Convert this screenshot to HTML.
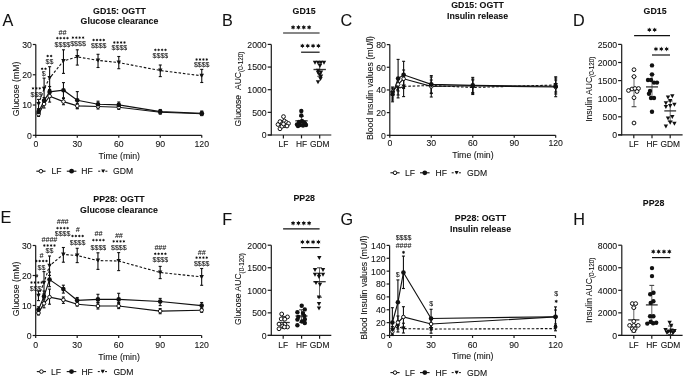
<!DOCTYPE html>
<html><head><meta charset="utf-8"><style>
html,body{margin:0;padding:0;background:#fff;}
svg{display:block;filter:grayscale(100%);}
text{font-family:"Liberation Sans",sans-serif;stroke:#111;stroke-width:0.08px;}
</style></head><body>
<svg width="685" height="378" viewBox="0 0 685 378">
<rect width="685" height="378" fill="#fff"/>
<text x="2.6" y="26" font-size="16.2" text-anchor="start" fill="#111">A</text>
<text x="119.5" y="13.6" font-size="8.8" text-anchor="middle" font-weight="bold" fill="#111">GD15: OGTT</text>
<text x="119.5" y="23.8" font-size="8.8" text-anchor="middle" font-weight="bold" fill="#111">Glucose clearance</text>
<line x1="35.8" y1="135.9" x2="35.8" y2="44.5" stroke="#1a1a1a" stroke-width="1.2"/>
<line x1="32.8" y1="135.3" x2="35.8" y2="135.3" stroke="#1a1a1a" stroke-width="1.2"/>
<text x="31.8" y="138.73" font-size="8.7" text-anchor="end" fill="#111">0</text>
<line x1="32.8" y1="105.03" x2="35.8" y2="105.03" stroke="#1a1a1a" stroke-width="1.2"/>
<text x="31.8" y="108.47" font-size="8.7" text-anchor="end" fill="#111">10</text>
<line x1="32.8" y1="74.77" x2="35.8" y2="74.77" stroke="#1a1a1a" stroke-width="1.2"/>
<text x="31.8" y="78.2" font-size="8.7" text-anchor="end" fill="#111">20</text>
<line x1="32.8" y1="44.5" x2="35.8" y2="44.5" stroke="#1a1a1a" stroke-width="1.2"/>
<text x="31.8" y="47.93" font-size="8.7" text-anchor="end" fill="#111">30</text>
<line x1="35.2" y1="135.3" x2="201.76" y2="135.3" stroke="#1a1a1a" stroke-width="1.2"/>
<line x1="35.8" y1="135.3" x2="35.8" y2="137.7" stroke="#1a1a1a" stroke-width="1.2"/>
<text x="35.8" y="147" font-size="8.7" text-anchor="middle" fill="#111">0</text>
<line x1="77.29" y1="135.3" x2="77.29" y2="137.7" stroke="#1a1a1a" stroke-width="1.2"/>
<text x="77.29" y="147" font-size="8.7" text-anchor="middle" fill="#111">30</text>
<line x1="118.78" y1="135.3" x2="118.78" y2="137.7" stroke="#1a1a1a" stroke-width="1.2"/>
<text x="118.78" y="147" font-size="8.7" text-anchor="middle" fill="#111">60</text>
<line x1="160.27" y1="135.3" x2="160.27" y2="137.7" stroke="#1a1a1a" stroke-width="1.2"/>
<text x="160.27" y="147" font-size="8.7" text-anchor="middle" fill="#111">90</text>
<line x1="201.76" y1="135.3" x2="201.76" y2="137.7" stroke="#1a1a1a" stroke-width="1.2"/>
<text x="201.76" y="147" font-size="8.7" text-anchor="middle" fill="#111">120</text>
<polyline points="38.57,114.2 44.1,104 49.63,96.1 63.46,101.6 77.29,105.9 98.03,106.5 118.78,107.2 160.27,112.2 201.76,113.8" fill="none" stroke="#111" stroke-width="1.15"/>
<polyline points="38.57,111.9 44.1,100.7 49.63,91.9 63.46,90.2 77.29,100.2 98.03,104.2 118.78,104.9 160.27,111.6 201.76,113.2" fill="none" stroke="#111" stroke-width="1.15"/>
<polyline points="38.57,104 44.1,88.7 49.63,78.1 63.46,60.9 77.29,56.9 98.03,60.4 118.78,62.6 160.27,70.5 201.76,75.8" fill="none" stroke="#111" stroke-width="1.1" stroke-dasharray="2.6,1.8"/>
<line x1="38.57" y1="99.4" x2="38.57" y2="108.6" stroke="#111" stroke-width="1.1"/>
<line x1="37.07" y1="99.4" x2="40.07" y2="99.4" stroke="#111" stroke-width="1.1"/>
<line x1="37.07" y1="108.6" x2="40.07" y2="108.6" stroke="#111" stroke-width="1.1"/>
<line x1="44.1" y1="78.1" x2="44.1" y2="99.3" stroke="#111" stroke-width="1.1"/>
<line x1="42.6" y1="78.1" x2="45.6" y2="78.1" stroke="#111" stroke-width="1.1"/>
<line x1="42.6" y1="99.3" x2="45.6" y2="99.3" stroke="#111" stroke-width="1.1"/>
<line x1="49.63" y1="66.7" x2="49.63" y2="89.5" stroke="#111" stroke-width="1.1"/>
<line x1="48.13" y1="66.7" x2="51.13" y2="66.7" stroke="#111" stroke-width="1.1"/>
<line x1="48.13" y1="89.5" x2="51.13" y2="89.5" stroke="#111" stroke-width="1.1"/>
<line x1="63.46" y1="49.8" x2="63.46" y2="73.4" stroke="#111" stroke-width="1.1"/>
<line x1="61.96" y1="49.8" x2="64.96" y2="49.8" stroke="#111" stroke-width="1.1"/>
<line x1="61.96" y1="73.4" x2="64.96" y2="73.4" stroke="#111" stroke-width="1.1"/>
<line x1="77.29" y1="49.8" x2="77.29" y2="65.1" stroke="#111" stroke-width="1.1"/>
<line x1="75.79" y1="49.8" x2="78.79" y2="49.8" stroke="#111" stroke-width="1.1"/>
<line x1="75.79" y1="65.1" x2="78.79" y2="65.1" stroke="#111" stroke-width="1.1"/>
<line x1="98.03" y1="54.3" x2="98.03" y2="67.5" stroke="#111" stroke-width="1.1"/>
<line x1="96.53" y1="54.3" x2="99.53" y2="54.3" stroke="#111" stroke-width="1.1"/>
<line x1="96.53" y1="67.5" x2="99.53" y2="67.5" stroke="#111" stroke-width="1.1"/>
<line x1="118.78" y1="56.5" x2="118.78" y2="68.7" stroke="#111" stroke-width="1.1"/>
<line x1="117.28" y1="56.5" x2="120.28" y2="56.5" stroke="#111" stroke-width="1.1"/>
<line x1="117.28" y1="68.7" x2="120.28" y2="68.7" stroke="#111" stroke-width="1.1"/>
<line x1="160.27" y1="65" x2="160.27" y2="76.6" stroke="#111" stroke-width="1.1"/>
<line x1="158.77" y1="65" x2="161.77" y2="65" stroke="#111" stroke-width="1.1"/>
<line x1="158.77" y1="76.6" x2="161.77" y2="76.6" stroke="#111" stroke-width="1.1"/>
<line x1="201.76" y1="69.4" x2="201.76" y2="82.5" stroke="#111" stroke-width="1.1"/>
<line x1="200.26" y1="69.4" x2="203.26" y2="69.4" stroke="#111" stroke-width="1.1"/>
<line x1="200.26" y1="82.5" x2="203.26" y2="82.5" stroke="#111" stroke-width="1.1"/>
<line x1="38.57" y1="109.5" x2="38.57" y2="114.3" stroke="#111" stroke-width="1.1"/>
<line x1="37.07" y1="109.5" x2="40.07" y2="109.5" stroke="#111" stroke-width="1.1"/>
<line x1="37.07" y1="114.3" x2="40.07" y2="114.3" stroke="#111" stroke-width="1.1"/>
<line x1="44.1" y1="97.5" x2="44.1" y2="104" stroke="#111" stroke-width="1.1"/>
<line x1="42.6" y1="97.5" x2="45.6" y2="97.5" stroke="#111" stroke-width="1.1"/>
<line x1="42.6" y1="104" x2="45.6" y2="104" stroke="#111" stroke-width="1.1"/>
<line x1="49.63" y1="86.5" x2="49.63" y2="97.3" stroke="#111" stroke-width="1.1"/>
<line x1="48.13" y1="86.5" x2="51.13" y2="86.5" stroke="#111" stroke-width="1.1"/>
<line x1="48.13" y1="97.3" x2="51.13" y2="97.3" stroke="#111" stroke-width="1.1"/>
<line x1="63.46" y1="82.6" x2="63.46" y2="97.8" stroke="#111" stroke-width="1.1"/>
<line x1="61.96" y1="82.6" x2="64.96" y2="82.6" stroke="#111" stroke-width="1.1"/>
<line x1="61.96" y1="97.8" x2="64.96" y2="97.8" stroke="#111" stroke-width="1.1"/>
<line x1="77.29" y1="91.6" x2="77.29" y2="108.8" stroke="#111" stroke-width="1.1"/>
<line x1="75.79" y1="91.6" x2="78.79" y2="91.6" stroke="#111" stroke-width="1.1"/>
<line x1="75.79" y1="108.8" x2="78.79" y2="108.8" stroke="#111" stroke-width="1.1"/>
<line x1="98.03" y1="101.2" x2="98.03" y2="107.2" stroke="#111" stroke-width="1.1"/>
<line x1="96.53" y1="101.2" x2="99.53" y2="101.2" stroke="#111" stroke-width="1.1"/>
<line x1="96.53" y1="107.2" x2="99.53" y2="107.2" stroke="#111" stroke-width="1.1"/>
<line x1="118.78" y1="102" x2="118.78" y2="107.8" stroke="#111" stroke-width="1.1"/>
<line x1="117.28" y1="102" x2="120.28" y2="102" stroke="#111" stroke-width="1.1"/>
<line x1="117.28" y1="107.8" x2="120.28" y2="107.8" stroke="#111" stroke-width="1.1"/>
<line x1="160.27" y1="109.5" x2="160.27" y2="113.7" stroke="#111" stroke-width="1.1"/>
<line x1="158.77" y1="109.5" x2="161.77" y2="109.5" stroke="#111" stroke-width="1.1"/>
<line x1="158.77" y1="113.7" x2="161.77" y2="113.7" stroke="#111" stroke-width="1.1"/>
<line x1="201.76" y1="111" x2="201.76" y2="115.4" stroke="#111" stroke-width="1.1"/>
<line x1="200.26" y1="111" x2="203.26" y2="111" stroke="#111" stroke-width="1.1"/>
<line x1="200.26" y1="115.4" x2="203.26" y2="115.4" stroke="#111" stroke-width="1.1"/>
<line x1="38.57" y1="112" x2="38.57" y2="116.4" stroke="#111" stroke-width="1.1"/>
<line x1="37.07" y1="112" x2="40.07" y2="112" stroke="#111" stroke-width="1.1"/>
<line x1="37.07" y1="116.4" x2="40.07" y2="116.4" stroke="#111" stroke-width="1.1"/>
<line x1="44.1" y1="100" x2="44.1" y2="108" stroke="#111" stroke-width="1.1"/>
<line x1="42.6" y1="100" x2="45.6" y2="100" stroke="#111" stroke-width="1.1"/>
<line x1="42.6" y1="108" x2="45.6" y2="108" stroke="#111" stroke-width="1.1"/>
<line x1="49.63" y1="90" x2="49.63" y2="102.1" stroke="#111" stroke-width="1.1"/>
<line x1="48.13" y1="90" x2="51.13" y2="90" stroke="#111" stroke-width="1.1"/>
<line x1="48.13" y1="102.1" x2="51.13" y2="102.1" stroke="#111" stroke-width="1.1"/>
<line x1="63.46" y1="98.5" x2="63.46" y2="104.7" stroke="#111" stroke-width="1.1"/>
<line x1="61.96" y1="98.5" x2="64.96" y2="98.5" stroke="#111" stroke-width="1.1"/>
<line x1="61.96" y1="104.7" x2="64.96" y2="104.7" stroke="#111" stroke-width="1.1"/>
<line x1="77.29" y1="103.5" x2="77.29" y2="108.3" stroke="#111" stroke-width="1.1"/>
<line x1="75.79" y1="103.5" x2="78.79" y2="103.5" stroke="#111" stroke-width="1.1"/>
<line x1="75.79" y1="108.3" x2="78.79" y2="108.3" stroke="#111" stroke-width="1.1"/>
<line x1="98.03" y1="104" x2="98.03" y2="109" stroke="#111" stroke-width="1.1"/>
<line x1="96.53" y1="104" x2="99.53" y2="104" stroke="#111" stroke-width="1.1"/>
<line x1="96.53" y1="109" x2="99.53" y2="109" stroke="#111" stroke-width="1.1"/>
<line x1="118.78" y1="105" x2="118.78" y2="109.4" stroke="#111" stroke-width="1.1"/>
<line x1="117.28" y1="105" x2="120.28" y2="105" stroke="#111" stroke-width="1.1"/>
<line x1="117.28" y1="109.4" x2="120.28" y2="109.4" stroke="#111" stroke-width="1.1"/>
<line x1="160.27" y1="110.5" x2="160.27" y2="114" stroke="#111" stroke-width="1.1"/>
<line x1="158.77" y1="110.5" x2="161.77" y2="110.5" stroke="#111" stroke-width="1.1"/>
<line x1="158.77" y1="114" x2="161.77" y2="114" stroke="#111" stroke-width="1.1"/>
<line x1="201.76" y1="112" x2="201.76" y2="115.6" stroke="#111" stroke-width="1.1"/>
<line x1="200.26" y1="112" x2="203.26" y2="112" stroke="#111" stroke-width="1.1"/>
<line x1="200.26" y1="115.6" x2="203.26" y2="115.6" stroke="#111" stroke-width="1.1"/>
<circle cx="38.57" cy="114.2" r="1.8" fill="#fff" stroke="#111" stroke-width="1"/>
<circle cx="44.1" cy="104" r="1.8" fill="#fff" stroke="#111" stroke-width="1"/>
<circle cx="49.63" cy="96.1" r="1.8" fill="#fff" stroke="#111" stroke-width="1"/>
<circle cx="63.46" cy="101.6" r="1.8" fill="#fff" stroke="#111" stroke-width="1"/>
<circle cx="77.29" cy="105.9" r="1.8" fill="#fff" stroke="#111" stroke-width="1"/>
<circle cx="98.03" cy="106.5" r="1.8" fill="#fff" stroke="#111" stroke-width="1"/>
<circle cx="118.78" cy="107.2" r="1.8" fill="#fff" stroke="#111" stroke-width="1"/>
<circle cx="160.27" cy="112.2" r="1.8" fill="#fff" stroke="#111" stroke-width="1"/>
<circle cx="201.76" cy="113.8" r="1.8" fill="#fff" stroke="#111" stroke-width="1"/>
<circle cx="38.57" cy="111.9" r="2.3" fill="#111"/>
<circle cx="44.1" cy="100.7" r="2.3" fill="#111"/>
<circle cx="49.63" cy="91.9" r="2.3" fill="#111"/>
<circle cx="63.46" cy="90.2" r="2.3" fill="#111"/>
<circle cx="77.29" cy="100.2" r="2.3" fill="#111"/>
<circle cx="98.03" cy="104.2" r="2.3" fill="#111"/>
<circle cx="118.78" cy="104.9" r="2.3" fill="#111"/>
<circle cx="160.27" cy="111.6" r="2.3" fill="#111"/>
<circle cx="201.76" cy="113.2" r="2.3" fill="#111"/>
<polygon points="36.32,101.97 40.82,101.97 38.57,106.03" fill="#111"/>
<polygon points="41.85,86.67 46.35,86.67 44.1,90.73" fill="#111"/>
<polygon points="47.38,76.07 51.88,76.07 49.63,80.12" fill="#111"/>
<polygon points="61.21,58.88 65.71,58.88 63.46,62.92" fill="#111"/>
<polygon points="75.04,54.88 79.54,54.88 77.29,58.92" fill="#111"/>
<polygon points="95.78,58.38 100.28,58.38 98.03,62.42" fill="#111"/>
<polygon points="116.53,60.58 121.03,60.58 118.78,64.62" fill="#111"/>
<polygon points="158.02,68.47 162.52,68.47 160.27,72.53" fill="#111"/>
<polygon points="199.51,73.77 204.01,73.77 201.76,77.83" fill="#111"/>
<polygon points="33,86.85 33.4,87.7 34.34,87.62 33.81,88.4 34.34,89.18 33.4,89.1 33,89.95 32.6,89.1 31.66,89.18 32.19,88.4 31.66,87.62 32.6,87.7" fill="#111"/>
<polygon points="36.4,86.85 36.8,87.7 37.74,87.62 37.21,88.4 37.74,89.18 36.8,89.1 36.4,89.95 36,89.1 35.06,89.18 35.59,88.4 35.06,87.62 36,87.7" fill="#111"/>
<polygon points="39.8,86.85 40.2,87.7 41.14,87.62 40.61,88.4 41.14,89.18 40.2,89.1 39.8,89.95 39.4,89.1 38.46,89.18 38.99,88.4 38.46,87.62 39.4,87.7" fill="#111"/>
<text x="36.4" y="96.65" font-size="7" text-anchor="middle" fill="#111">$$$</text>
<polygon points="42.1,67.15 42.5,68 43.44,67.92 42.91,68.7 43.44,69.48 42.5,69.4 42.1,70.25 41.7,69.4 40.76,69.48 41.29,68.7 40.76,67.92 41.7,68" fill="#111"/>
<polygon points="45.5,67.15 45.9,68 46.84,67.92 46.31,68.7 46.84,69.48 45.9,69.4 45.5,70.25 45.1,69.4 44.16,69.48 44.69,68.7 44.16,67.92 45.1,68" fill="#111"/>
<text x="43.8" y="75.75" font-size="7" text-anchor="middle" fill="#111">$</text>
<polygon points="47.7,54.45 48.1,55.3 49.04,55.23 48.51,56 49.04,56.77 48.1,56.7 47.7,57.55 47.3,56.7 46.36,56.77 46.89,56 46.36,55.23 47.3,55.3" fill="#111"/>
<polygon points="51.1,54.45 51.5,55.3 52.44,55.23 51.91,56 52.44,56.77 51.5,56.7 51.1,57.55 50.7,56.7 49.76,56.77 50.29,56 49.76,55.23 50.7,55.3" fill="#111"/>
<text x="49.4" y="64.15" font-size="7" text-anchor="middle" fill="#111">$$</text>
<text x="62.4" y="34.99" font-size="7" text-anchor="middle" font-style="italic" fill="#111">##</text>
<polygon points="57.3,36.55 57.7,37.4 58.64,37.33 58.11,38.1 58.64,38.88 57.7,38.8 57.3,39.65 56.9,38.8 55.96,38.88 56.49,38.1 55.96,37.33 56.9,37.4" fill="#111"/>
<polygon points="60.7,36.55 61.1,37.4 62.04,37.33 61.51,38.1 62.04,38.88 61.1,38.8 60.7,39.65 60.3,38.8 59.36,38.88 59.89,38.1 59.36,37.33 60.3,37.4" fill="#111"/>
<polygon points="64.1,36.55 64.5,37.4 65.44,37.33 64.91,38.1 65.44,38.88 64.5,38.8 64.1,39.65 63.7,38.8 62.76,38.88 63.29,38.1 62.76,37.33 63.7,37.4" fill="#111"/>
<polygon points="67.5,36.55 67.9,37.4 68.84,37.33 68.31,38.1 68.84,38.88 67.9,38.8 67.5,39.65 67.1,38.8 66.16,38.88 66.69,38.1 66.16,37.33 67.1,37.4" fill="#111"/>
<text x="62.4" y="46.95" font-size="7" text-anchor="middle" fill="#111">$$$$</text>
<polygon points="72.9,36.05 73.3,36.9 74.24,36.83 73.71,37.6 74.24,38.38 73.3,38.3 72.9,39.15 72.5,38.3 71.56,38.38 72.09,37.6 71.56,36.83 72.5,36.9" fill="#111"/>
<polygon points="76.3,36.05 76.7,36.9 77.64,36.83 77.11,37.6 77.64,38.38 76.7,38.3 76.3,39.15 75.9,38.3 74.96,38.38 75.49,37.6 74.96,36.83 75.9,36.9" fill="#111"/>
<polygon points="79.7,36.05 80.1,36.9 81.04,36.83 80.51,37.6 81.04,38.38 80.1,38.3 79.7,39.15 79.3,38.3 78.36,38.38 78.89,37.6 78.36,36.83 79.3,36.9" fill="#111"/>
<polygon points="83.1,36.05 83.5,36.9 84.44,36.83 83.91,37.6 84.44,38.38 83.5,38.3 83.1,39.15 82.7,38.3 81.76,38.38 82.29,37.6 81.76,36.83 82.7,36.9" fill="#111"/>
<text x="78" y="46.35" font-size="7" text-anchor="middle" fill="#111">$$$$</text>
<polygon points="93.6,38.45 94,39.3 94.94,39.23 94.41,40 94.94,40.77 94,40.7 93.6,41.55 93.2,40.7 92.26,40.77 92.79,40 92.26,39.23 93.2,39.3" fill="#111"/>
<polygon points="97,38.45 97.4,39.3 98.34,39.23 97.81,40 98.34,40.77 97.4,40.7 97,41.55 96.6,40.7 95.66,40.77 96.19,40 95.66,39.23 96.6,39.3" fill="#111"/>
<polygon points="100.4,38.45 100.8,39.3 101.74,39.23 101.21,40 101.74,40.77 100.8,40.7 100.4,41.55 100,40.7 99.06,40.77 99.59,40 99.06,39.23 100,39.3" fill="#111"/>
<polygon points="103.8,38.45 104.2,39.3 105.14,39.23 104.61,40 105.14,40.77 104.2,40.7 103.8,41.55 103.4,40.7 102.46,40.77 102.99,40 102.46,39.23 103.4,39.3" fill="#111"/>
<text x="98.7" y="47.85" font-size="7" text-anchor="middle" fill="#111">$$$$</text>
<polygon points="114.3,40.95 114.7,41.8 115.64,41.73 115.11,42.5 115.64,43.27 114.7,43.2 114.3,44.05 113.9,43.2 112.96,43.27 113.49,42.5 112.96,41.73 113.9,41.8" fill="#111"/>
<polygon points="117.7,40.95 118.1,41.8 119.04,41.73 118.51,42.5 119.04,43.27 118.1,43.2 117.7,44.05 117.3,43.2 116.36,43.27 116.89,42.5 116.36,41.73 117.3,41.8" fill="#111"/>
<polygon points="121.1,40.95 121.5,41.8 122.44,41.73 121.91,42.5 122.44,43.27 121.5,43.2 121.1,44.05 120.7,43.2 119.76,43.27 120.29,42.5 119.76,41.73 120.7,41.8" fill="#111"/>
<polygon points="124.5,40.95 124.9,41.8 125.84,41.73 125.31,42.5 125.84,43.27 124.9,43.2 124.5,44.05 124.1,43.2 123.16,43.27 123.69,42.5 123.16,41.73 124.1,41.8" fill="#111"/>
<text x="119.4" y="50.15" font-size="7" text-anchor="middle" fill="#111">$$$$</text>
<polygon points="155.3,48.35 155.7,49.2 156.64,49.12 156.11,49.9 156.64,50.67 155.7,50.6 155.3,51.45 154.9,50.6 153.96,50.67 154.49,49.9 153.96,49.12 154.9,49.2" fill="#111"/>
<polygon points="158.7,48.35 159.1,49.2 160.04,49.12 159.51,49.9 160.04,50.67 159.1,50.6 158.7,51.45 158.3,50.6 157.36,50.67 157.89,49.9 157.36,49.12 158.3,49.2" fill="#111"/>
<polygon points="162.1,48.35 162.5,49.2 163.44,49.12 162.91,49.9 163.44,50.67 162.5,50.6 162.1,51.45 161.7,50.6 160.76,50.67 161.29,49.9 160.76,49.12 161.7,49.2" fill="#111"/>
<polygon points="165.5,48.35 165.9,49.2 166.84,49.12 166.31,49.9 166.84,50.67 165.9,50.6 165.5,51.45 165.1,50.6 164.16,50.67 164.69,49.9 164.16,49.12 165.1,49.2" fill="#111"/>
<text x="160.4" y="57.65" font-size="7" text-anchor="middle" fill="#111">$$$$</text>
<polygon points="196.6,57.95 197,58.8 197.94,58.73 197.41,59.5 197.94,60.27 197,60.2 196.6,61.05 196.2,60.2 195.26,60.27 195.79,59.5 195.26,58.73 196.2,58.8" fill="#111"/>
<polygon points="200,57.95 200.4,58.8 201.34,58.73 200.81,59.5 201.34,60.27 200.4,60.2 200,61.05 199.6,60.2 198.66,60.27 199.19,59.5 198.66,58.73 199.6,58.8" fill="#111"/>
<polygon points="203.4,57.95 203.8,58.8 204.74,58.73 204.21,59.5 204.74,60.27 203.8,60.2 203.4,61.05 203,60.2 202.06,60.27 202.59,59.5 202.06,58.73 203,58.8" fill="#111"/>
<polygon points="206.8,57.95 207.2,58.8 208.14,58.73 207.61,59.5 208.14,60.27 207.2,60.2 206.8,61.05 206.4,60.2 205.46,60.27 205.99,59.5 205.46,58.73 206.4,58.8" fill="#111"/>
<text x="201.7" y="67.15" font-size="7" text-anchor="middle" fill="#111">$$$$</text>
<text x="19.3" y="88.9" font-size="8.7" text-anchor="middle" transform="rotate(-90 19.3 88.9)" fill="#111">Glucose (mM)</text>
<text x="119.2" y="159" font-size="8.75" text-anchor="middle" fill="#111">Time (min)</text>
<line x1="36.3" y1="171.2" x2="45.5" y2="171.2" stroke="#111" stroke-width="1.1"/>
<circle cx="40.9" cy="171.2" r="1.8" fill="#fff" stroke="#111" stroke-width="1"/>
<text x="51.5" y="174" font-size="8.6" text-anchor="start" fill="#111">LF</text>
<line x1="66.8" y1="171.2" x2="76.4" y2="171.2" stroke="#111" stroke-width="1.1"/>
<circle cx="71.6" cy="171.2" r="2.4" fill="#111"/>
<text x="81.3" y="174" font-size="8.6" text-anchor="start" fill="#111">HF</text>
<line x1="98.2" y1="171.2" x2="108.2" y2="171.2" stroke="#111" stroke-width="1" stroke-dasharray="2,1.6"/>
<polygon points="101.2,169.4 105.2,169.4 103.2,173" fill="#111"/>
<text x="113" y="174" font-size="8.6" text-anchor="start" fill="#111">GDM</text>
<text x="0.5" y="223" font-size="16.2" text-anchor="start" fill="#111">E</text>
<text x="119" y="202.1" font-size="8.8" text-anchor="middle" font-weight="bold" fill="#111">PP28: OGTT</text>
<text x="119" y="212.9" font-size="8.8" text-anchor="middle" font-weight="bold" fill="#111">Glucose clearance</text>
<line x1="35.7" y1="336.1" x2="35.7" y2="245.5" stroke="#1a1a1a" stroke-width="1.2"/>
<line x1="32.7" y1="335.5" x2="35.7" y2="335.5" stroke="#1a1a1a" stroke-width="1.2"/>
<text x="31.7" y="338.93" font-size="8.7" text-anchor="end" fill="#111">0</text>
<line x1="32.7" y1="305.5" x2="35.7" y2="305.5" stroke="#1a1a1a" stroke-width="1.2"/>
<text x="31.7" y="308.93" font-size="8.7" text-anchor="end" fill="#111">10</text>
<line x1="32.7" y1="275.5" x2="35.7" y2="275.5" stroke="#1a1a1a" stroke-width="1.2"/>
<text x="31.7" y="278.93" font-size="8.7" text-anchor="end" fill="#111">20</text>
<line x1="32.7" y1="245.5" x2="35.7" y2="245.5" stroke="#1a1a1a" stroke-width="1.2"/>
<text x="31.7" y="248.93" font-size="8.7" text-anchor="end" fill="#111">30</text>
<line x1="35.1" y1="335.5" x2="201.66" y2="335.5" stroke="#1a1a1a" stroke-width="1.2"/>
<line x1="35.7" y1="335.5" x2="35.7" y2="337.9" stroke="#1a1a1a" stroke-width="1.2"/>
<text x="35.7" y="348.1" font-size="8.7" text-anchor="middle" fill="#111">0</text>
<line x1="77.19" y1="335.5" x2="77.19" y2="337.9" stroke="#1a1a1a" stroke-width="1.2"/>
<text x="77.19" y="348.1" font-size="8.7" text-anchor="middle" fill="#111">30</text>
<line x1="118.68" y1="335.5" x2="118.68" y2="337.9" stroke="#1a1a1a" stroke-width="1.2"/>
<text x="118.68" y="348.1" font-size="8.7" text-anchor="middle" fill="#111">60</text>
<line x1="160.17" y1="335.5" x2="160.17" y2="337.9" stroke="#1a1a1a" stroke-width="1.2"/>
<text x="160.17" y="348.1" font-size="8.7" text-anchor="middle" fill="#111">90</text>
<line x1="201.66" y1="335.5" x2="201.66" y2="337.9" stroke="#1a1a1a" stroke-width="1.2"/>
<text x="201.66" y="348.1" font-size="8.7" text-anchor="middle" fill="#111">120</text>
<polyline points="38.47,313 44,303.4 49.53,297.1 63.36,299.9 77.19,304.2 97.94,306 118.68,306 160.17,311.1 201.66,310.3" fill="none" stroke="#111" stroke-width="1.15"/>
<polyline points="38.47,309.8 44,296.4 49.53,279.6 63.36,289.1 77.19,300.3 97.94,299.4 118.68,299.4 160.17,301.5 201.66,305.6" fill="none" stroke="#111" stroke-width="1.15"/>
<polyline points="38.47,295.8 44,282.7 49.53,265.7 63.36,254.4 77.19,255.5 97.94,260.6 118.68,261 160.17,272.5 201.66,276.9" fill="none" stroke="#111" stroke-width="1.1" stroke-dasharray="2.6,1.8"/>
<line x1="38.47" y1="291" x2="38.47" y2="300.6" stroke="#111" stroke-width="1.1"/>
<line x1="36.97" y1="291" x2="39.97" y2="291" stroke="#111" stroke-width="1.1"/>
<line x1="36.97" y1="300.6" x2="39.97" y2="300.6" stroke="#111" stroke-width="1.1"/>
<line x1="44" y1="271.6" x2="44" y2="293.8" stroke="#111" stroke-width="1.1"/>
<line x1="42.5" y1="271.6" x2="45.5" y2="271.6" stroke="#111" stroke-width="1.1"/>
<line x1="42.5" y1="293.8" x2="45.5" y2="293.8" stroke="#111" stroke-width="1.1"/>
<line x1="49.53" y1="256" x2="49.53" y2="275.4" stroke="#111" stroke-width="1.1"/>
<line x1="48.03" y1="256" x2="51.03" y2="256" stroke="#111" stroke-width="1.1"/>
<line x1="48.03" y1="275.4" x2="51.03" y2="275.4" stroke="#111" stroke-width="1.1"/>
<line x1="63.36" y1="247.5" x2="63.36" y2="262.2" stroke="#111" stroke-width="1.1"/>
<line x1="61.86" y1="247.5" x2="64.86" y2="247.5" stroke="#111" stroke-width="1.1"/>
<line x1="61.86" y1="262.2" x2="64.86" y2="262.2" stroke="#111" stroke-width="1.1"/>
<line x1="77.19" y1="248.3" x2="77.19" y2="262.6" stroke="#111" stroke-width="1.1"/>
<line x1="75.69" y1="248.3" x2="78.69" y2="248.3" stroke="#111" stroke-width="1.1"/>
<line x1="75.69" y1="262.6" x2="78.69" y2="262.6" stroke="#111" stroke-width="1.1"/>
<line x1="97.94" y1="252.8" x2="97.94" y2="269.4" stroke="#111" stroke-width="1.1"/>
<line x1="96.44" y1="252.8" x2="99.44" y2="252.8" stroke="#111" stroke-width="1.1"/>
<line x1="96.44" y1="269.4" x2="99.44" y2="269.4" stroke="#111" stroke-width="1.1"/>
<line x1="118.68" y1="252.6" x2="118.68" y2="270.6" stroke="#111" stroke-width="1.1"/>
<line x1="117.18" y1="252.6" x2="120.18" y2="252.6" stroke="#111" stroke-width="1.1"/>
<line x1="117.18" y1="270.6" x2="120.18" y2="270.6" stroke="#111" stroke-width="1.1"/>
<line x1="160.17" y1="266.4" x2="160.17" y2="278.6" stroke="#111" stroke-width="1.1"/>
<line x1="158.67" y1="266.4" x2="161.67" y2="266.4" stroke="#111" stroke-width="1.1"/>
<line x1="158.67" y1="278.6" x2="161.67" y2="278.6" stroke="#111" stroke-width="1.1"/>
<line x1="201.66" y1="268.5" x2="201.66" y2="285.3" stroke="#111" stroke-width="1.1"/>
<line x1="200.16" y1="268.5" x2="203.16" y2="268.5" stroke="#111" stroke-width="1.1"/>
<line x1="200.16" y1="285.3" x2="203.16" y2="285.3" stroke="#111" stroke-width="1.1"/>
<line x1="38.47" y1="306.8" x2="38.47" y2="312.8" stroke="#111" stroke-width="1.1"/>
<line x1="36.97" y1="306.8" x2="39.97" y2="306.8" stroke="#111" stroke-width="1.1"/>
<line x1="36.97" y1="312.8" x2="39.97" y2="312.8" stroke="#111" stroke-width="1.1"/>
<line x1="44" y1="291" x2="44" y2="302" stroke="#111" stroke-width="1.1"/>
<line x1="42.5" y1="291" x2="45.5" y2="291" stroke="#111" stroke-width="1.1"/>
<line x1="42.5" y1="302" x2="45.5" y2="302" stroke="#111" stroke-width="1.1"/>
<line x1="49.53" y1="272.1" x2="49.53" y2="286.7" stroke="#111" stroke-width="1.1"/>
<line x1="48.03" y1="272.1" x2="51.03" y2="272.1" stroke="#111" stroke-width="1.1"/>
<line x1="48.03" y1="286.7" x2="51.03" y2="286.7" stroke="#111" stroke-width="1.1"/>
<line x1="63.36" y1="285.2" x2="63.36" y2="293.1" stroke="#111" stroke-width="1.1"/>
<line x1="61.86" y1="285.2" x2="64.86" y2="285.2" stroke="#111" stroke-width="1.1"/>
<line x1="61.86" y1="293.1" x2="64.86" y2="293.1" stroke="#111" stroke-width="1.1"/>
<line x1="77.19" y1="297.5" x2="77.19" y2="303" stroke="#111" stroke-width="1.1"/>
<line x1="75.69" y1="297.5" x2="78.69" y2="297.5" stroke="#111" stroke-width="1.1"/>
<line x1="75.69" y1="303" x2="78.69" y2="303" stroke="#111" stroke-width="1.1"/>
<line x1="97.94" y1="294.3" x2="97.94" y2="302.5" stroke="#111" stroke-width="1.1"/>
<line x1="96.44" y1="294.3" x2="99.44" y2="294.3" stroke="#111" stroke-width="1.1"/>
<line x1="96.44" y1="302.5" x2="99.44" y2="302.5" stroke="#111" stroke-width="1.1"/>
<line x1="118.68" y1="293.3" x2="118.68" y2="302.5" stroke="#111" stroke-width="1.1"/>
<line x1="117.18" y1="293.3" x2="120.18" y2="293.3" stroke="#111" stroke-width="1.1"/>
<line x1="117.18" y1="302.5" x2="120.18" y2="302.5" stroke="#111" stroke-width="1.1"/>
<line x1="160.17" y1="298.4" x2="160.17" y2="305.6" stroke="#111" stroke-width="1.1"/>
<line x1="158.67" y1="298.4" x2="161.67" y2="298.4" stroke="#111" stroke-width="1.1"/>
<line x1="158.67" y1="305.6" x2="161.67" y2="305.6" stroke="#111" stroke-width="1.1"/>
<line x1="201.66" y1="302.5" x2="201.66" y2="308.2" stroke="#111" stroke-width="1.1"/>
<line x1="200.16" y1="302.5" x2="203.16" y2="302.5" stroke="#111" stroke-width="1.1"/>
<line x1="200.16" y1="308.2" x2="203.16" y2="308.2" stroke="#111" stroke-width="1.1"/>
<line x1="38.47" y1="311" x2="38.47" y2="315" stroke="#111" stroke-width="1.1"/>
<line x1="36.97" y1="311" x2="39.97" y2="311" stroke="#111" stroke-width="1.1"/>
<line x1="36.97" y1="315" x2="39.97" y2="315" stroke="#111" stroke-width="1.1"/>
<line x1="44" y1="299" x2="44" y2="307.8" stroke="#111" stroke-width="1.1"/>
<line x1="42.5" y1="299" x2="45.5" y2="299" stroke="#111" stroke-width="1.1"/>
<line x1="42.5" y1="307.8" x2="45.5" y2="307.8" stroke="#111" stroke-width="1.1"/>
<line x1="49.53" y1="289.1" x2="49.53" y2="304.2" stroke="#111" stroke-width="1.1"/>
<line x1="48.03" y1="289.1" x2="51.03" y2="289.1" stroke="#111" stroke-width="1.1"/>
<line x1="48.03" y1="304.2" x2="51.03" y2="304.2" stroke="#111" stroke-width="1.1"/>
<line x1="63.36" y1="297" x2="63.36" y2="303.4" stroke="#111" stroke-width="1.1"/>
<line x1="61.86" y1="297" x2="64.86" y2="297" stroke="#111" stroke-width="1.1"/>
<line x1="61.86" y1="303.4" x2="64.86" y2="303.4" stroke="#111" stroke-width="1.1"/>
<line x1="77.19" y1="301.5" x2="77.19" y2="306.1" stroke="#111" stroke-width="1.1"/>
<line x1="75.69" y1="301.5" x2="78.69" y2="301.5" stroke="#111" stroke-width="1.1"/>
<line x1="75.69" y1="306.1" x2="78.69" y2="306.1" stroke="#111" stroke-width="1.1"/>
<line x1="97.94" y1="303" x2="97.94" y2="309" stroke="#111" stroke-width="1.1"/>
<line x1="96.44" y1="303" x2="99.44" y2="303" stroke="#111" stroke-width="1.1"/>
<line x1="96.44" y1="309" x2="99.44" y2="309" stroke="#111" stroke-width="1.1"/>
<line x1="118.68" y1="303.5" x2="118.68" y2="308.6" stroke="#111" stroke-width="1.1"/>
<line x1="117.18" y1="303.5" x2="120.18" y2="303.5" stroke="#111" stroke-width="1.1"/>
<line x1="117.18" y1="308.6" x2="120.18" y2="308.6" stroke="#111" stroke-width="1.1"/>
<line x1="160.17" y1="308.6" x2="160.17" y2="313.7" stroke="#111" stroke-width="1.1"/>
<line x1="158.67" y1="308.6" x2="161.67" y2="308.6" stroke="#111" stroke-width="1.1"/>
<line x1="158.67" y1="313.7" x2="161.67" y2="313.7" stroke="#111" stroke-width="1.1"/>
<line x1="201.66" y1="308.3" x2="201.66" y2="312.3" stroke="#111" stroke-width="1.1"/>
<line x1="200.16" y1="308.3" x2="203.16" y2="308.3" stroke="#111" stroke-width="1.1"/>
<line x1="200.16" y1="312.3" x2="203.16" y2="312.3" stroke="#111" stroke-width="1.1"/>
<circle cx="38.47" cy="313" r="1.8" fill="#fff" stroke="#111" stroke-width="1"/>
<circle cx="44" cy="303.4" r="1.8" fill="#fff" stroke="#111" stroke-width="1"/>
<circle cx="49.53" cy="297.1" r="1.8" fill="#fff" stroke="#111" stroke-width="1"/>
<circle cx="63.36" cy="299.9" r="1.8" fill="#fff" stroke="#111" stroke-width="1"/>
<circle cx="77.19" cy="304.2" r="1.8" fill="#fff" stroke="#111" stroke-width="1"/>
<circle cx="97.94" cy="306" r="1.8" fill="#fff" stroke="#111" stroke-width="1"/>
<circle cx="118.68" cy="306" r="1.8" fill="#fff" stroke="#111" stroke-width="1"/>
<circle cx="160.17" cy="311.1" r="1.8" fill="#fff" stroke="#111" stroke-width="1"/>
<circle cx="201.66" cy="310.3" r="1.8" fill="#fff" stroke="#111" stroke-width="1"/>
<circle cx="38.47" cy="309.8" r="2.3" fill="#111"/>
<circle cx="44" cy="296.4" r="2.3" fill="#111"/>
<circle cx="49.53" cy="279.6" r="2.3" fill="#111"/>
<circle cx="63.36" cy="289.1" r="2.3" fill="#111"/>
<circle cx="77.19" cy="300.3" r="2.3" fill="#111"/>
<circle cx="97.94" cy="299.4" r="2.3" fill="#111"/>
<circle cx="118.68" cy="299.4" r="2.3" fill="#111"/>
<circle cx="160.17" cy="301.5" r="2.3" fill="#111"/>
<circle cx="201.66" cy="305.6" r="2.3" fill="#111"/>
<polygon points="36.22,293.78 40.72,293.78 38.47,297.82" fill="#111"/>
<polygon points="41.75,280.68 46.25,280.68 44,284.72" fill="#111"/>
<polygon points="47.28,263.68 51.78,263.68 49.53,267.72" fill="#111"/>
<polygon points="61.11,252.38 65.61,252.38 63.36,256.43" fill="#111"/>
<polygon points="74.94,253.47 79.44,253.47 77.19,257.52" fill="#111"/>
<polygon points="95.69,258.58 100.19,258.58 97.94,262.62" fill="#111"/>
<polygon points="116.43,258.98 120.93,258.98 118.68,263.02" fill="#111"/>
<polygon points="157.92,270.48 162.42,270.48 160.17,274.52" fill="#111"/>
<polygon points="199.41,274.88 203.91,274.88 201.66,278.92" fill="#111"/>
<text x="36.6" y="277.58" font-size="5.5" text-anchor="middle" font-style="italic" fill="#111">#</text>
<polygon points="31.5,280.95 31.9,281.8 32.84,281.73 32.31,282.5 32.84,283.27 31.9,283.2 31.5,284.05 31.1,283.2 30.16,283.27 30.69,282.5 30.16,281.73 31.1,281.8" fill="#111"/>
<polygon points="34.9,280.95 35.3,281.8 36.24,281.73 35.71,282.5 36.24,283.27 35.3,283.2 34.9,284.05 34.5,283.2 33.56,283.27 34.09,282.5 33.56,281.73 34.5,281.8" fill="#111"/>
<polygon points="38.3,280.95 38.7,281.8 39.64,281.73 39.11,282.5 39.64,283.27 38.7,283.2 38.3,284.05 37.9,283.2 36.96,283.27 37.49,282.5 36.96,281.73 37.9,281.8" fill="#111"/>
<polygon points="41.7,280.95 42.1,281.8 43.04,281.73 42.51,282.5 43.04,283.27 42.1,283.2 41.7,284.05 41.3,283.2 40.36,283.27 40.89,282.5 40.36,281.73 41.3,281.8" fill="#111"/>
<text x="35.6" y="290.55" font-size="7" text-anchor="middle" fill="#111">$$$</text>
<text x="41.4" y="257.69" font-size="7" text-anchor="middle" font-style="italic" fill="#111">#</text>
<polygon points="36.3,259.45 36.7,260.3 37.64,260.23 37.11,261 37.64,261.77 36.7,261.7 36.3,262.55 35.9,261.7 34.96,261.77 35.49,261 34.96,260.23 35.9,260.3" fill="#111"/>
<polygon points="39.7,259.45 40.1,260.3 41.04,260.23 40.51,261 41.04,261.77 40.1,261.7 39.7,262.55 39.3,261.7 38.36,261.77 38.89,261 38.36,260.23 39.3,260.3" fill="#111"/>
<polygon points="43.1,259.45 43.5,260.3 44.44,260.23 43.91,261 44.44,261.77 43.5,261.7 43.1,262.55 42.7,261.7 41.76,261.77 42.29,261 41.76,260.23 42.7,260.3" fill="#111"/>
<polygon points="46.5,259.45 46.9,260.3 47.84,260.23 47.31,261 47.84,261.77 46.9,261.7 46.5,262.55 46.1,261.7 45.16,261.77 45.69,261 45.16,260.23 46.1,260.3" fill="#111"/>
<text x="41.4" y="269.85" font-size="7" text-anchor="middle" fill="#111">$$</text>
<text x="49.4" y="242.39" font-size="7" text-anchor="middle" font-style="italic" fill="#111">####</text>
<polygon points="44.3,243.95 44.7,244.8 45.64,244.72 45.11,245.5 45.64,246.28 44.7,246.2 44.3,247.05 43.9,246.2 42.96,246.28 43.49,245.5 42.96,244.72 43.9,244.8" fill="#111"/>
<polygon points="47.7,243.95 48.1,244.8 49.04,244.72 48.51,245.5 49.04,246.28 48.1,246.2 47.7,247.05 47.3,246.2 46.36,246.28 46.89,245.5 46.36,244.72 47.3,244.8" fill="#111"/>
<polygon points="51.1,243.95 51.5,244.8 52.44,244.72 51.91,245.5 52.44,246.28 51.5,246.2 51.1,247.05 50.7,246.2 49.76,246.28 50.29,245.5 49.76,244.72 50.7,244.8" fill="#111"/>
<polygon points="54.5,243.95 54.9,244.8 55.84,244.72 55.31,245.5 55.84,246.28 54.9,246.2 54.5,247.05 54.1,246.2 53.16,246.28 53.69,245.5 53.16,244.72 54.1,244.8" fill="#111"/>
<text x="49.4" y="253.45" font-size="7" text-anchor="middle" fill="#111">$$</text>
<text x="62.6" y="224.09" font-size="7" text-anchor="middle" font-style="italic" fill="#111">###</text>
<polygon points="57.5,226.55 57.9,227.4 58.84,227.32 58.31,228.1 58.84,228.88 57.9,228.8 57.5,229.65 57.1,228.8 56.16,228.88 56.69,228.1 56.16,227.32 57.1,227.4" fill="#111"/>
<polygon points="60.9,226.55 61.3,227.4 62.24,227.32 61.71,228.1 62.24,228.88 61.3,228.8 60.9,229.65 60.5,228.8 59.56,228.88 60.09,228.1 59.56,227.32 60.5,227.4" fill="#111"/>
<polygon points="64.3,226.55 64.7,227.4 65.64,227.32 65.11,228.1 65.64,228.88 64.7,228.8 64.3,229.65 63.9,228.8 62.96,228.88 63.49,228.1 62.96,227.32 63.9,227.4" fill="#111"/>
<polygon points="67.7,226.55 68.1,227.4 69.04,227.32 68.51,228.1 69.04,228.88 68.1,228.8 67.7,229.65 67.3,228.8 66.36,228.88 66.89,228.1 66.36,227.32 67.3,227.4" fill="#111"/>
<text x="62.6" y="235.95" font-size="7" text-anchor="middle" fill="#111">$$$$</text>
<text x="77.6" y="232.09" font-size="7" text-anchor="middle" font-style="italic" fill="#111">#</text>
<polygon points="72.5,234.45 72.9,235.3 73.84,235.22 73.31,236 73.84,236.78 72.9,236.7 72.5,237.55 72.1,236.7 71.16,236.78 71.69,236 71.16,235.22 72.1,235.3" fill="#111"/>
<polygon points="75.9,234.45 76.3,235.3 77.24,235.22 76.71,236 77.24,236.78 76.3,236.7 75.9,237.55 75.5,236.7 74.56,236.78 75.09,236 74.56,235.22 75.5,235.3" fill="#111"/>
<polygon points="79.3,234.45 79.7,235.3 80.64,235.22 80.11,236 80.64,236.78 79.7,236.7 79.3,237.55 78.9,236.7 77.96,236.78 78.49,236 77.96,235.22 78.9,235.3" fill="#111"/>
<polygon points="82.7,234.45 83.1,235.3 84.04,235.22 83.51,236 84.04,236.78 83.1,236.7 82.7,237.55 82.3,236.7 81.36,236.78 81.89,236 81.36,235.22 82.3,235.3" fill="#111"/>
<text x="77.6" y="244.75" font-size="7" text-anchor="middle" fill="#111">$$$$</text>
<text x="98.4" y="236.39" font-size="7" text-anchor="middle" font-style="italic" fill="#111">##</text>
<polygon points="93.3,238.55 93.7,239.4 94.64,239.32 94.11,240.1 94.64,240.88 93.7,240.8 93.3,241.65 92.9,240.8 91.96,240.88 92.49,240.1 91.96,239.32 92.9,239.4" fill="#111"/>
<polygon points="96.7,238.55 97.1,239.4 98.04,239.32 97.51,240.1 98.04,240.88 97.1,240.8 96.7,241.65 96.3,240.8 95.36,240.88 95.89,240.1 95.36,239.32 96.3,239.4" fill="#111"/>
<polygon points="100.1,238.55 100.5,239.4 101.44,239.32 100.91,240.1 101.44,240.88 100.5,240.8 100.1,241.65 99.7,240.8 98.76,240.88 99.29,240.1 98.76,239.32 99.7,239.4" fill="#111"/>
<polygon points="103.5,238.55 103.9,239.4 104.84,239.32 104.31,240.1 104.84,240.88 103.9,240.8 103.5,241.65 103.1,240.8 102.16,240.88 102.69,240.1 102.16,239.32 103.1,239.4" fill="#111"/>
<text x="98.4" y="249.65" font-size="7" text-anchor="middle" fill="#111">$$$$</text>
<text x="118.8" y="238.49" font-size="7" text-anchor="middle" font-style="italic" fill="#111">##</text>
<polygon points="113.7,239.85 114.1,240.7 115.04,240.62 114.51,241.4 115.04,242.18 114.1,242.1 113.7,242.95 113.3,242.1 112.36,242.18 112.89,241.4 112.36,240.62 113.3,240.7" fill="#111"/>
<polygon points="117.1,239.85 117.5,240.7 118.44,240.62 117.91,241.4 118.44,242.18 117.5,242.1 117.1,242.95 116.7,242.1 115.76,242.18 116.29,241.4 115.76,240.62 116.7,240.7" fill="#111"/>
<polygon points="120.5,239.85 120.9,240.7 121.84,240.62 121.31,241.4 121.84,242.18 120.9,242.1 120.5,242.95 120.1,242.1 119.16,242.18 119.69,241.4 119.16,240.62 120.1,240.7" fill="#111"/>
<polygon points="123.9,239.85 124.3,240.7 125.24,240.62 124.71,241.4 125.24,242.18 124.3,242.1 123.9,242.95 123.5,242.1 122.56,242.18 123.09,241.4 122.56,240.62 123.5,240.7" fill="#111"/>
<text x="118.8" y="250.45" font-size="7" text-anchor="middle" fill="#111">$$$$</text>
<text x="160.3" y="249.79" font-size="7" text-anchor="middle" font-style="italic" fill="#111">###</text>
<polygon points="155.2,252.25 155.6,253.1 156.54,253.03 156.01,253.8 156.54,254.58 155.6,254.5 155.2,255.35 154.8,254.5 153.86,254.58 154.39,253.8 153.86,253.03 154.8,253.1" fill="#111"/>
<polygon points="158.6,252.25 159,253.1 159.94,253.03 159.41,253.8 159.94,254.58 159,254.5 158.6,255.35 158.2,254.5 157.26,254.58 157.79,253.8 157.26,253.03 158.2,253.1" fill="#111"/>
<polygon points="162,252.25 162.4,253.1 163.34,253.03 162.81,253.8 163.34,254.58 162.4,254.5 162,255.35 161.6,254.5 160.66,254.58 161.19,253.8 160.66,253.03 161.6,253.1" fill="#111"/>
<polygon points="165.4,252.25 165.8,253.1 166.74,253.03 166.21,253.8 166.74,254.58 165.8,254.5 165.4,255.35 165,254.5 164.06,254.58 164.59,253.8 164.06,253.03 165,253.1" fill="#111"/>
<text x="160.3" y="262.45" font-size="7" text-anchor="middle" fill="#111">$$$$</text>
<text x="201.7" y="254.69" font-size="7" text-anchor="middle" font-style="italic" fill="#111">##</text>
<polygon points="196.6,256.05 197,256.9 197.94,256.83 197.41,257.6 197.94,258.38 197,258.3 196.6,259.15 196.2,258.3 195.26,258.38 195.79,257.6 195.26,256.83 196.2,256.9" fill="#111"/>
<polygon points="200,256.05 200.4,256.9 201.34,256.83 200.81,257.6 201.34,258.38 200.4,258.3 200,259.15 199.6,258.3 198.66,258.38 199.19,257.6 198.66,256.83 199.6,256.9" fill="#111"/>
<polygon points="203.4,256.05 203.8,256.9 204.74,256.83 204.21,257.6 204.74,258.38 203.8,258.3 203.4,259.15 203,258.3 202.06,258.38 202.59,257.6 202.06,256.83 203,256.9" fill="#111"/>
<polygon points="206.8,256.05 207.2,256.9 208.14,256.83 207.61,257.6 208.14,258.38 207.2,258.3 206.8,259.15 206.4,258.3 205.46,258.38 205.99,257.6 205.46,256.83 206.4,256.9" fill="#111"/>
<text x="201.7" y="266.35" font-size="7" text-anchor="middle" fill="#111">$$$$</text>
<text x="19.3" y="289" font-size="8.7" text-anchor="middle" transform="rotate(-90 19.3 289)" fill="#111">Glucose (mM)</text>
<text x="119.1" y="359.5" font-size="8.75" text-anchor="middle" fill="#111">Time (min)</text>
<line x1="36.8" y1="371.6" x2="46" y2="371.6" stroke="#111" stroke-width="1.1"/>
<circle cx="41.4" cy="371.6" r="1.8" fill="#fff" stroke="#111" stroke-width="1"/>
<text x="50.9" y="375.2" font-size="8.6" text-anchor="start" fill="#111">LF</text>
<line x1="66.7" y1="371.6" x2="76.3" y2="371.6" stroke="#111" stroke-width="1.1"/>
<circle cx="71.5" cy="371.6" r="2.4" fill="#111"/>
<text x="81.4" y="375.2" font-size="8.6" text-anchor="start" fill="#111">HF</text>
<line x1="97.8" y1="371.6" x2="107.8" y2="371.6" stroke="#111" stroke-width="1" stroke-dasharray="2,1.6"/>
<polygon points="100.8,369.8 104.8,369.8 102.8,373.4" fill="#111"/>
<text x="113.4" y="375.2" font-size="8.6" text-anchor="start" fill="#111">GDM</text>
<text x="340.4" y="26" font-size="16.2" text-anchor="start" fill="#111">C</text>
<text x="477.6" y="8.2" font-size="8.8" text-anchor="middle" font-weight="bold" fill="#111">GD15: OGTT</text>
<text x="477.6" y="18.9" font-size="8.8" text-anchor="middle" font-weight="bold" fill="#111">Insulin release</text>
<line x1="389.8" y1="135.9" x2="389.8" y2="44.6" stroke="#1a1a1a" stroke-width="1.2"/>
<line x1="386.8" y1="135.3" x2="389.8" y2="135.3" stroke="#1a1a1a" stroke-width="1.2"/>
<text x="385.8" y="138.73" font-size="8.7" text-anchor="end" fill="#111">0</text>
<line x1="386.8" y1="112.62" x2="389.8" y2="112.62" stroke="#1a1a1a" stroke-width="1.2"/>
<text x="385.8" y="116.06" font-size="8.7" text-anchor="end" fill="#111">20</text>
<line x1="386.8" y1="89.95" x2="389.8" y2="89.95" stroke="#1a1a1a" stroke-width="1.2"/>
<text x="385.8" y="93.38" font-size="8.7" text-anchor="end" fill="#111">40</text>
<line x1="386.8" y1="67.27" x2="389.8" y2="67.27" stroke="#1a1a1a" stroke-width="1.2"/>
<text x="385.8" y="70.71" font-size="8.7" text-anchor="end" fill="#111">60</text>
<line x1="386.8" y1="44.6" x2="389.8" y2="44.6" stroke="#1a1a1a" stroke-width="1.2"/>
<text x="385.8" y="48.03" font-size="8.7" text-anchor="end" fill="#111">80</text>
<line x1="389.2" y1="135.3" x2="555.7" y2="135.3" stroke="#1a1a1a" stroke-width="1.2"/>
<line x1="389.8" y1="135.3" x2="389.8" y2="137.7" stroke="#1a1a1a" stroke-width="1.2"/>
<text x="389.8" y="146.1" font-size="8.7" text-anchor="middle" fill="#111">0</text>
<line x1="431.28" y1="135.3" x2="431.28" y2="137.7" stroke="#1a1a1a" stroke-width="1.2"/>
<text x="431.28" y="146.1" font-size="8.7" text-anchor="middle" fill="#111">30</text>
<line x1="472.75" y1="135.3" x2="472.75" y2="137.7" stroke="#1a1a1a" stroke-width="1.2"/>
<text x="472.75" y="146.1" font-size="8.7" text-anchor="middle" fill="#111">60</text>
<line x1="514.23" y1="135.3" x2="514.23" y2="137.7" stroke="#1a1a1a" stroke-width="1.2"/>
<text x="514.23" y="146.1" font-size="8.7" text-anchor="middle" fill="#111">90</text>
<line x1="555.7" y1="135.3" x2="555.7" y2="137.7" stroke="#1a1a1a" stroke-width="1.2"/>
<text x="555.7" y="146.1" font-size="8.7" text-anchor="middle" fill="#111">120</text>
<polyline points="392.56,92 398.1,84.4 403.62,78.8 431.28,86.4 472.75,85.8 555.7,87" fill="none" stroke="#111" stroke-width="1.15"/>
<polyline points="392.56,94.5 398.1,78.5 403.62,74.8 431.28,84.4 472.75,85.4 555.7,86.3" fill="none" stroke="#111" stroke-width="1.15"/>
<polyline points="392.56,93 398.1,88.8 403.62,86.4 431.28,85.5 472.75,87.5 555.7,85" fill="none" stroke="#111" stroke-width="1.1" stroke-dasharray="2.6,1.8"/>
<line x1="392.56" y1="88" x2="392.56" y2="101.8" stroke="#111" stroke-width="1.1"/>
<line x1="391.06" y1="88" x2="394.06" y2="88" stroke="#111" stroke-width="1.1"/>
<line x1="391.06" y1="101.8" x2="394.06" y2="101.8" stroke="#111" stroke-width="1.1"/>
<line x1="398.1" y1="83" x2="398.1" y2="95" stroke="#111" stroke-width="1.1"/>
<line x1="396.6" y1="83" x2="399.6" y2="83" stroke="#111" stroke-width="1.1"/>
<line x1="396.6" y1="95" x2="399.6" y2="95" stroke="#111" stroke-width="1.1"/>
<line x1="403.62" y1="76" x2="403.62" y2="96.6" stroke="#111" stroke-width="1.1"/>
<line x1="402.12" y1="76" x2="405.12" y2="76" stroke="#111" stroke-width="1.1"/>
<line x1="402.12" y1="96.6" x2="405.12" y2="96.6" stroke="#111" stroke-width="1.1"/>
<line x1="431.28" y1="77" x2="431.28" y2="97" stroke="#111" stroke-width="1.1"/>
<line x1="429.78" y1="77" x2="432.78" y2="77" stroke="#111" stroke-width="1.1"/>
<line x1="429.78" y1="97" x2="432.78" y2="97" stroke="#111" stroke-width="1.1"/>
<line x1="472.75" y1="80" x2="472.75" y2="94.5" stroke="#111" stroke-width="1.1"/>
<line x1="471.25" y1="80" x2="474.25" y2="80" stroke="#111" stroke-width="1.1"/>
<line x1="471.25" y1="94.5" x2="474.25" y2="94.5" stroke="#111" stroke-width="1.1"/>
<line x1="555.7" y1="78" x2="555.7" y2="92" stroke="#111" stroke-width="1.1"/>
<line x1="554.2" y1="78" x2="557.2" y2="78" stroke="#111" stroke-width="1.1"/>
<line x1="554.2" y1="92" x2="557.2" y2="92" stroke="#111" stroke-width="1.1"/>
<line x1="392.56" y1="89" x2="392.56" y2="100" stroke="#111" stroke-width="1.1"/>
<line x1="391.06" y1="89" x2="394.06" y2="89" stroke="#111" stroke-width="1.1"/>
<line x1="391.06" y1="100" x2="394.06" y2="100" stroke="#111" stroke-width="1.1"/>
<line x1="398.1" y1="59.4" x2="398.1" y2="97.9" stroke="#111" stroke-width="1.1"/>
<line x1="396.6" y1="59.4" x2="399.6" y2="59.4" stroke="#111" stroke-width="1.1"/>
<line x1="396.6" y1="97.9" x2="399.6" y2="97.9" stroke="#111" stroke-width="1.1"/>
<line x1="403.62" y1="61.3" x2="403.62" y2="88.5" stroke="#111" stroke-width="1.1"/>
<line x1="402.12" y1="61.3" x2="405.12" y2="61.3" stroke="#111" stroke-width="1.1"/>
<line x1="402.12" y1="88.5" x2="405.12" y2="88.5" stroke="#111" stroke-width="1.1"/>
<line x1="431.28" y1="75.6" x2="431.28" y2="93.5" stroke="#111" stroke-width="1.1"/>
<line x1="429.78" y1="75.6" x2="432.78" y2="75.6" stroke="#111" stroke-width="1.1"/>
<line x1="429.78" y1="93.5" x2="432.78" y2="93.5" stroke="#111" stroke-width="1.1"/>
<line x1="472.75" y1="77.4" x2="472.75" y2="93.4" stroke="#111" stroke-width="1.1"/>
<line x1="471.25" y1="77.4" x2="474.25" y2="77.4" stroke="#111" stroke-width="1.1"/>
<line x1="471.25" y1="93.4" x2="474.25" y2="93.4" stroke="#111" stroke-width="1.1"/>
<line x1="555.7" y1="76.8" x2="555.7" y2="96.7" stroke="#111" stroke-width="1.1"/>
<line x1="554.2" y1="76.8" x2="557.2" y2="76.8" stroke="#111" stroke-width="1.1"/>
<line x1="554.2" y1="96.7" x2="557.2" y2="96.7" stroke="#111" stroke-width="1.1"/>
<line x1="392.56" y1="87" x2="392.56" y2="98" stroke="#111" stroke-width="1.1"/>
<line x1="391.06" y1="87" x2="394.06" y2="87" stroke="#111" stroke-width="1.1"/>
<line x1="391.06" y1="98" x2="394.06" y2="98" stroke="#111" stroke-width="1.1"/>
<line x1="398.1" y1="78" x2="398.1" y2="91" stroke="#111" stroke-width="1.1"/>
<line x1="396.6" y1="78" x2="399.6" y2="78" stroke="#111" stroke-width="1.1"/>
<line x1="396.6" y1="91" x2="399.6" y2="91" stroke="#111" stroke-width="1.1"/>
<line x1="403.62" y1="70" x2="403.62" y2="87.5" stroke="#111" stroke-width="1.1"/>
<line x1="402.12" y1="70" x2="405.12" y2="70" stroke="#111" stroke-width="1.1"/>
<line x1="402.12" y1="87.5" x2="405.12" y2="87.5" stroke="#111" stroke-width="1.1"/>
<line x1="431.28" y1="80" x2="431.28" y2="93" stroke="#111" stroke-width="1.1"/>
<line x1="429.78" y1="80" x2="432.78" y2="80" stroke="#111" stroke-width="1.1"/>
<line x1="429.78" y1="93" x2="432.78" y2="93" stroke="#111" stroke-width="1.1"/>
<line x1="472.75" y1="79" x2="472.75" y2="92.5" stroke="#111" stroke-width="1.1"/>
<line x1="471.25" y1="79" x2="474.25" y2="79" stroke="#111" stroke-width="1.1"/>
<line x1="471.25" y1="92.5" x2="474.25" y2="92.5" stroke="#111" stroke-width="1.1"/>
<line x1="555.7" y1="80" x2="555.7" y2="94" stroke="#111" stroke-width="1.1"/>
<line x1="554.2" y1="80" x2="557.2" y2="80" stroke="#111" stroke-width="1.1"/>
<line x1="554.2" y1="94" x2="557.2" y2="94" stroke="#111" stroke-width="1.1"/>
<circle cx="392.56" cy="92" r="1.8" fill="#fff" stroke="#111" stroke-width="1"/>
<circle cx="398.1" cy="84.4" r="1.8" fill="#fff" stroke="#111" stroke-width="1"/>
<circle cx="403.62" cy="78.8" r="1.8" fill="#fff" stroke="#111" stroke-width="1"/>
<circle cx="431.28" cy="86.4" r="1.8" fill="#fff" stroke="#111" stroke-width="1"/>
<circle cx="472.75" cy="85.8" r="1.8" fill="#fff" stroke="#111" stroke-width="1"/>
<circle cx="555.7" cy="87" r="1.8" fill="#fff" stroke="#111" stroke-width="1"/>
<circle cx="392.56" cy="94.5" r="2.3" fill="#111"/>
<circle cx="398.1" cy="78.5" r="2.3" fill="#111"/>
<circle cx="403.62" cy="74.8" r="2.3" fill="#111"/>
<circle cx="431.28" cy="84.4" r="2.3" fill="#111"/>
<circle cx="472.75" cy="85.4" r="2.3" fill="#111"/>
<circle cx="555.7" cy="86.3" r="2.3" fill="#111"/>
<polygon points="390.31,90.97 394.81,90.97 392.56,95.03" fill="#111"/>
<polygon points="395.85,86.77 400.35,86.77 398.1,90.83" fill="#111"/>
<polygon points="401.38,84.38 405.88,84.38 403.62,88.43" fill="#111"/>
<polygon points="429.03,83.47 433.53,83.47 431.28,87.53" fill="#111"/>
<polygon points="470.5,85.47 475,85.47 472.75,89.53" fill="#111"/>
<polygon points="553.45,82.97 557.95,82.97 555.7,87.03" fill="#111"/>
<text x="372.5" y="88" font-size="8.75" text-anchor="middle" transform="rotate(-90 372.5 88)" fill="#111">Blood Insulin values (mU/l)</text>
<text x="472.9" y="158" font-size="8.75" text-anchor="middle" fill="#111">Time (min)</text>
<line x1="390.4" y1="172.8" x2="399.6" y2="172.8" stroke="#111" stroke-width="1.1"/>
<circle cx="395" cy="172.8" r="1.8" fill="#fff" stroke="#111" stroke-width="1"/>
<text x="405" y="175.8" font-size="8.6" text-anchor="start" fill="#111">LF</text>
<line x1="420" y1="172.8" x2="429.6" y2="172.8" stroke="#111" stroke-width="1.1"/>
<circle cx="424.8" cy="172.8" r="2.4" fill="#111"/>
<text x="435.5" y="175.8" font-size="8.6" text-anchor="start" fill="#111">HF</text>
<line x1="451.7" y1="172.8" x2="461.7" y2="172.8" stroke="#111" stroke-width="1" stroke-dasharray="2,1.6"/>
<polygon points="454.7,171 458.7,171 456.7,174.6" fill="#111"/>
<text x="467.1" y="175.8" font-size="8.6" text-anchor="start" fill="#111">GDM</text>
<text x="340.6" y="225" font-size="16.2" text-anchor="start" fill="#111">G</text>
<text x="480.5" y="221.4" font-size="8.8" text-anchor="middle" font-weight="bold" fill="#111">PP28: OGTT</text>
<text x="480.5" y="231.8" font-size="8.8" text-anchor="middle" font-weight="bold" fill="#111">Insulin release</text>
<line x1="389.6" y1="336.1" x2="389.6" y2="245.4" stroke="#1a1a1a" stroke-width="1.2"/>
<line x1="386.6" y1="335.5" x2="389.6" y2="335.5" stroke="#1a1a1a" stroke-width="1.2"/>
<text x="385.6" y="338.93" font-size="8.7" text-anchor="end" fill="#111">0</text>
<line x1="386.6" y1="322.63" x2="389.6" y2="322.63" stroke="#1a1a1a" stroke-width="1.2"/>
<text x="385.6" y="326.06" font-size="8.7" text-anchor="end" fill="#111">20</text>
<line x1="386.6" y1="309.76" x2="389.6" y2="309.76" stroke="#1a1a1a" stroke-width="1.2"/>
<text x="385.6" y="313.19" font-size="8.7" text-anchor="end" fill="#111">40</text>
<line x1="386.6" y1="296.89" x2="389.6" y2="296.89" stroke="#1a1a1a" stroke-width="1.2"/>
<text x="385.6" y="300.32" font-size="8.7" text-anchor="end" fill="#111">60</text>
<line x1="386.6" y1="284.01" x2="389.6" y2="284.01" stroke="#1a1a1a" stroke-width="1.2"/>
<text x="385.6" y="287.45" font-size="8.7" text-anchor="end" fill="#111">80</text>
<line x1="386.6" y1="271.14" x2="389.6" y2="271.14" stroke="#1a1a1a" stroke-width="1.2"/>
<text x="385.6" y="274.57" font-size="8.7" text-anchor="end" fill="#111">100</text>
<line x1="386.6" y1="258.27" x2="389.6" y2="258.27" stroke="#1a1a1a" stroke-width="1.2"/>
<text x="385.6" y="261.7" font-size="8.7" text-anchor="end" fill="#111">120</text>
<line x1="386.6" y1="245.4" x2="389.6" y2="245.4" stroke="#1a1a1a" stroke-width="1.2"/>
<text x="385.6" y="248.83" font-size="8.7" text-anchor="end" fill="#111">140</text>
<line x1="389" y1="335.5" x2="555.5" y2="335.5" stroke="#1a1a1a" stroke-width="1.2"/>
<line x1="389.6" y1="335.5" x2="389.6" y2="337.9" stroke="#1a1a1a" stroke-width="1.2"/>
<text x="389.6" y="348.1" font-size="8.7" text-anchor="middle" fill="#111">0</text>
<line x1="431.08" y1="335.5" x2="431.08" y2="337.9" stroke="#1a1a1a" stroke-width="1.2"/>
<text x="431.08" y="348.1" font-size="8.7" text-anchor="middle" fill="#111">30</text>
<line x1="472.55" y1="335.5" x2="472.55" y2="337.9" stroke="#1a1a1a" stroke-width="1.2"/>
<text x="472.55" y="348.1" font-size="8.7" text-anchor="middle" fill="#111">60</text>
<line x1="514.03" y1="335.5" x2="514.03" y2="337.9" stroke="#1a1a1a" stroke-width="1.2"/>
<text x="514.03" y="348.1" font-size="8.7" text-anchor="middle" fill="#111">90</text>
<line x1="555.5" y1="335.5" x2="555.5" y2="337.9" stroke="#1a1a1a" stroke-width="1.2"/>
<text x="555.5" y="348.1" font-size="8.7" text-anchor="middle" fill="#111">120</text>
<polyline points="392.37,331.5 397.9,322.5 403.43,317 431.08,324 555.5,316.9" fill="none" stroke="#111" stroke-width="1.15"/>
<polyline points="392.37,322.5 397.9,302.3 403.43,272.5 431.08,318.5 555.5,316.7" fill="none" stroke="#111" stroke-width="1.15"/>
<polyline points="392.37,330.3 397.9,326.6 403.43,328.6 431.08,329.1 555.5,328.6" fill="none" stroke="#111" stroke-width="1.1" stroke-dasharray="2.6,1.8"/>
<line x1="392.37" y1="326.5" x2="392.37" y2="334" stroke="#111" stroke-width="1.1"/>
<line x1="390.87" y1="326.5" x2="393.87" y2="326.5" stroke="#111" stroke-width="1.1"/>
<line x1="390.87" y1="334" x2="393.87" y2="334" stroke="#111" stroke-width="1.1"/>
<line x1="397.9" y1="321" x2="397.9" y2="332" stroke="#111" stroke-width="1.1"/>
<line x1="396.4" y1="321" x2="399.4" y2="321" stroke="#111" stroke-width="1.1"/>
<line x1="396.4" y1="332" x2="399.4" y2="332" stroke="#111" stroke-width="1.1"/>
<line x1="403.43" y1="323.2" x2="403.43" y2="333" stroke="#111" stroke-width="1.1"/>
<line x1="401.93" y1="323.2" x2="404.93" y2="323.2" stroke="#111" stroke-width="1.1"/>
<line x1="401.93" y1="333" x2="404.93" y2="333" stroke="#111" stroke-width="1.1"/>
<line x1="431.08" y1="324.5" x2="431.08" y2="333.2" stroke="#111" stroke-width="1.1"/>
<line x1="429.58" y1="324.5" x2="432.58" y2="324.5" stroke="#111" stroke-width="1.1"/>
<line x1="429.58" y1="333.2" x2="432.58" y2="333.2" stroke="#111" stroke-width="1.1"/>
<line x1="555.5" y1="325.5" x2="555.5" y2="330.8" stroke="#111" stroke-width="1.1"/>
<line x1="554" y1="325.5" x2="557" y2="325.5" stroke="#111" stroke-width="1.1"/>
<line x1="554" y1="330.8" x2="557" y2="330.8" stroke="#111" stroke-width="1.1"/>
<line x1="392.37" y1="307.7" x2="392.37" y2="335.5" stroke="#111" stroke-width="1.1"/>
<line x1="390.87" y1="307.7" x2="393.87" y2="307.7" stroke="#111" stroke-width="1.1"/>
<line x1="390.87" y1="335.5" x2="393.87" y2="335.5" stroke="#111" stroke-width="1.1"/>
<line x1="397.9" y1="279.9" x2="397.9" y2="324.7" stroke="#111" stroke-width="1.1"/>
<line x1="396.4" y1="279.9" x2="399.4" y2="279.9" stroke="#111" stroke-width="1.1"/>
<line x1="396.4" y1="324.7" x2="399.4" y2="324.7" stroke="#111" stroke-width="1.1"/>
<line x1="403.43" y1="256.1" x2="403.43" y2="288.5" stroke="#111" stroke-width="1.1"/>
<line x1="401.93" y1="256.1" x2="404.93" y2="256.1" stroke="#111" stroke-width="1.1"/>
<line x1="401.93" y1="288.5" x2="404.93" y2="288.5" stroke="#111" stroke-width="1.1"/>
<line x1="431.08" y1="309.3" x2="431.08" y2="327.7" stroke="#111" stroke-width="1.1"/>
<line x1="429.58" y1="309.3" x2="432.58" y2="309.3" stroke="#111" stroke-width="1.1"/>
<line x1="429.58" y1="327.7" x2="432.58" y2="327.7" stroke="#111" stroke-width="1.1"/>
<line x1="555.5" y1="306.9" x2="555.5" y2="326.5" stroke="#111" stroke-width="1.1"/>
<line x1="554" y1="306.9" x2="557" y2="306.9" stroke="#111" stroke-width="1.1"/>
<line x1="554" y1="326.5" x2="557" y2="326.5" stroke="#111" stroke-width="1.1"/>
<line x1="392.37" y1="328" x2="392.37" y2="335" stroke="#111" stroke-width="1.1"/>
<line x1="390.87" y1="328" x2="393.87" y2="328" stroke="#111" stroke-width="1.1"/>
<line x1="390.87" y1="335" x2="393.87" y2="335" stroke="#111" stroke-width="1.1"/>
<line x1="397.9" y1="316" x2="397.9" y2="329" stroke="#111" stroke-width="1.1"/>
<line x1="396.4" y1="316" x2="399.4" y2="316" stroke="#111" stroke-width="1.1"/>
<line x1="396.4" y1="329" x2="399.4" y2="329" stroke="#111" stroke-width="1.1"/>
<line x1="403.43" y1="306.7" x2="403.43" y2="327.3" stroke="#111" stroke-width="1.1"/>
<line x1="401.93" y1="306.7" x2="404.93" y2="306.7" stroke="#111" stroke-width="1.1"/>
<line x1="401.93" y1="327.3" x2="404.93" y2="327.3" stroke="#111" stroke-width="1.1"/>
<line x1="431.08" y1="318" x2="431.08" y2="330" stroke="#111" stroke-width="1.1"/>
<line x1="429.58" y1="318" x2="432.58" y2="318" stroke="#111" stroke-width="1.1"/>
<line x1="429.58" y1="330" x2="432.58" y2="330" stroke="#111" stroke-width="1.1"/>
<line x1="555.5" y1="310" x2="555.5" y2="324" stroke="#111" stroke-width="1.1"/>
<line x1="554" y1="310" x2="557" y2="310" stroke="#111" stroke-width="1.1"/>
<line x1="554" y1="324" x2="557" y2="324" stroke="#111" stroke-width="1.1"/>
<circle cx="392.37" cy="331.5" r="1.8" fill="#fff" stroke="#111" stroke-width="1"/>
<circle cx="397.9" cy="322.5" r="1.8" fill="#fff" stroke="#111" stroke-width="1"/>
<circle cx="403.43" cy="317" r="1.8" fill="#fff" stroke="#111" stroke-width="1"/>
<circle cx="431.08" cy="324" r="1.8" fill="#fff" stroke="#111" stroke-width="1"/>
<circle cx="555.5" cy="316.9" r="1.8" fill="#fff" stroke="#111" stroke-width="1"/>
<circle cx="392.37" cy="322.5" r="2.3" fill="#111"/>
<circle cx="397.9" cy="302.3" r="2.3" fill="#111"/>
<circle cx="403.43" cy="272.5" r="2.3" fill="#111"/>
<circle cx="431.08" cy="318.5" r="2.3" fill="#111"/>
<circle cx="555.5" cy="316.7" r="2.3" fill="#111"/>
<polygon points="390.12,328.28 394.62,328.28 392.37,332.32" fill="#111"/>
<polygon points="395.65,324.58 400.15,324.58 397.9,328.62" fill="#111"/>
<polygon points="401.18,326.58 405.68,326.58 403.43,330.62" fill="#111"/>
<polygon points="428.83,327.08 433.33,327.08 431.08,331.12" fill="#111"/>
<polygon points="553.25,326.58 557.75,326.58 555.5,330.62" fill="#111"/>
<text x="397.6" y="276.95" font-size="7" text-anchor="middle" fill="#111">$</text>
<text x="403.5" y="239.75" font-size="7" text-anchor="middle" fill="#111">$$$$</text>
<text x="403.5" y="247.69" font-size="7" text-anchor="middle" fill="#111">####</text>
<polygon points="403.5,250.4 403.99,251.44 405.15,251.35 404.49,252.3 405.15,253.25 403.99,253.16 403.5,254.2 403.01,253.16 401.85,253.25 402.51,252.3 401.85,251.35 403.01,251.44" fill="#111"/>
<text x="431.3" y="305.65" font-size="7" text-anchor="middle" fill="#111">$</text>
<text x="556.2" y="295.95" font-size="7" text-anchor="middle" fill="#111">$</text>
<polygon points="556.2,299.4 556.69,300.44 557.85,300.35 557.19,301.3 557.85,302.25 556.69,302.16 556.2,303.2 555.71,302.16 554.55,302.25 555.21,301.3 554.55,300.35 555.71,300.44" fill="#111"/>
<text x="367.1" y="287.6" font-size="8.75" text-anchor="middle" transform="rotate(-90 367.1 287.6)" fill="#111">Blood Insulin values (mU/l)</text>
<text x="472.8" y="359" font-size="8.75" text-anchor="middle" fill="#111">Time (min)</text>
<line x1="390.4" y1="372.6" x2="399.6" y2="372.6" stroke="#111" stroke-width="1.1"/>
<circle cx="395" cy="372.6" r="1.8" fill="#fff" stroke="#111" stroke-width="1"/>
<text x="405" y="376" font-size="8.6" text-anchor="start" fill="#111">LF</text>
<line x1="420" y1="372.6" x2="429.6" y2="372.6" stroke="#111" stroke-width="1.1"/>
<circle cx="424.8" cy="372.6" r="2.4" fill="#111"/>
<text x="435.5" y="376" font-size="8.6" text-anchor="start" fill="#111">HF</text>
<line x1="451.7" y1="372.6" x2="461.7" y2="372.6" stroke="#111" stroke-width="1" stroke-dasharray="2,1.6"/>
<polygon points="454.7,370.8 458.7,370.8 456.7,374.4" fill="#111"/>
<text x="467.1" y="376" font-size="8.6" text-anchor="start" fill="#111">GDM</text>
<text x="222" y="26" font-size="16.2" text-anchor="start" fill="#111">B</text>
<text x="304.1" y="13.9" font-size="8.8" text-anchor="middle" font-weight="bold" fill="#111">GD15</text>
<line x1="271.3" y1="135.6" x2="271.3" y2="44.4" stroke="#1a1a1a" stroke-width="1.2"/>
<line x1="267.7" y1="135" x2="271.3" y2="135" stroke="#1a1a1a" stroke-width="1.2"/>
<text x="266.7" y="138.43" font-size="8.7" text-anchor="end" fill="#111">0</text>
<line x1="267.7" y1="112.35" x2="271.3" y2="112.35" stroke="#1a1a1a" stroke-width="1.2"/>
<text x="266.7" y="115.78" font-size="8.7" text-anchor="end" fill="#111">500</text>
<line x1="267.7" y1="89.7" x2="271.3" y2="89.7" stroke="#1a1a1a" stroke-width="1.2"/>
<text x="266.7" y="93.13" font-size="8.7" text-anchor="end" fill="#111">1000</text>
<line x1="267.7" y1="67.05" x2="271.3" y2="67.05" stroke="#1a1a1a" stroke-width="1.2"/>
<text x="266.7" y="70.48" font-size="8.7" text-anchor="end" fill="#111">1500</text>
<line x1="267.7" y1="44.4" x2="271.3" y2="44.4" stroke="#1a1a1a" stroke-width="1.2"/>
<text x="266.7" y="47.83" font-size="8.7" text-anchor="end" fill="#111">2000</text>
<line x1="267.7" y1="135" x2="331.3" y2="135" stroke="#1a1a1a" stroke-width="1.2"/>
<line x1="283.4" y1="135" x2="283.4" y2="138.4" stroke="#1a1a1a" stroke-width="1.2"/>
<text x="283.4" y="147" font-size="8.4" text-anchor="middle" fill="#111">LF</text>
<line x1="301.5" y1="135" x2="301.5" y2="138.4" stroke="#1a1a1a" stroke-width="1.2"/>
<text x="301.5" y="147" font-size="8.4" text-anchor="middle" fill="#111">HF</text>
<line x1="319.7" y1="135" x2="319.7" y2="138.4" stroke="#1a1a1a" stroke-width="1.2"/>
<text x="319.7" y="147" font-size="8.4" text-anchor="middle" fill="#111">GDM</text>
<polygon points="293.08,24.85 293.71,26.2 295.2,26.07 294.35,27.3 295.2,28.52 293.71,28.4 293.08,29.75 292.44,28.4 290.95,28.53 291.8,27.3 290.95,26.07 292.44,26.2" fill="#111"/>
<polygon points="298.43,24.85 299.06,26.2 300.55,26.07 299.7,27.3 300.55,28.52 299.06,28.4 298.43,29.75 297.79,28.4 296.3,28.53 297.15,27.3 296.3,26.07 297.79,26.2" fill="#111"/>
<polygon points="303.78,24.85 304.41,26.2 305.9,26.07 305.05,27.3 305.9,28.52 304.41,28.4 303.78,29.75 303.14,28.4 301.65,28.53 302.5,27.3 301.65,26.07 303.14,26.2" fill="#111"/>
<polygon points="309.13,24.85 309.76,26.2 311.25,26.07 310.4,27.3 311.25,28.52 309.76,28.4 309.13,29.75 308.49,28.4 307,28.53 307.85,27.3 307,26.07 308.49,26.2" fill="#111"/>
<line x1="283.1" y1="33" x2="319.6" y2="33" stroke="#111" stroke-width="1.2"/>
<polygon points="302.38,43.45 303.01,44.8 304.5,44.67 303.65,45.9 304.5,47.12 303.01,47 302.38,48.35 301.74,47 300.25,47.12 301.1,45.9 300.25,44.67 301.74,44.8" fill="#111"/>
<polygon points="307.73,43.45 308.36,44.8 309.85,44.67 309,45.9 309.85,47.12 308.36,47 307.73,48.35 307.09,47 305.6,47.12 306.45,45.9 305.6,44.67 307.09,44.8" fill="#111"/>
<polygon points="313.07,43.45 313.71,44.8 315.2,44.67 314.35,45.9 315.2,47.12 313.71,47 313.07,48.35 312.44,47 310.95,47.12 311.8,45.9 310.95,44.67 312.44,44.8" fill="#111"/>
<polygon points="318.43,43.45 319.06,44.8 320.55,44.67 319.7,45.9 320.55,47.12 319.06,47 318.43,48.35 317.79,47 316.3,47.12 317.15,45.9 316.3,44.67 317.79,44.8" fill="#111"/>
<line x1="301.1" y1="52.2" x2="319.6" y2="52.2" stroke="#111" stroke-width="1.2"/>
<line x1="283.4" y1="120.5" x2="283.4" y2="127.5" stroke="#666" stroke-width="1"/>
<line x1="281" y1="120.5" x2="285.8" y2="120.5" stroke="#444" stroke-width="1.1"/>
<line x1="281" y1="127.5" x2="285.8" y2="127.5" stroke="#444" stroke-width="1.1"/>
<line x1="277.4" y1="124" x2="289.4" y2="124" stroke="#333" stroke-width="1.3"/>
<line x1="301.5" y1="116.3" x2="301.5" y2="125.3" stroke="#666" stroke-width="1"/>
<line x1="299.1" y1="116.3" x2="303.9" y2="116.3" stroke="#444" stroke-width="1.1"/>
<line x1="299.1" y1="125.3" x2="303.9" y2="125.3" stroke="#444" stroke-width="1.1"/>
<line x1="295.3" y1="120.8" x2="307.7" y2="120.8" stroke="#333" stroke-width="1.3"/>
<line x1="319.7" y1="62.7" x2="319.7" y2="76.3" stroke="#666" stroke-width="1"/>
<line x1="317.3" y1="62.7" x2="322.1" y2="62.7" stroke="#444" stroke-width="1.1"/>
<line x1="317.3" y1="76.3" x2="322.1" y2="76.3" stroke="#444" stroke-width="1.1"/>
<line x1="313.5" y1="69.5" x2="325.9" y2="69.5" stroke="#333" stroke-width="1.3"/>
<circle cx="283.5" cy="116.6" r="1.9" fill="#fff" stroke="#111" stroke-width="1"/>
<circle cx="280" cy="128.8" r="1.9" fill="#fff" stroke="#111" stroke-width="1"/>
<circle cx="278" cy="124.5" r="1.9" fill="#fff" stroke="#111" stroke-width="1"/>
<circle cx="280" cy="121.6" r="1.9" fill="#fff" stroke="#111" stroke-width="1"/>
<circle cx="282.5" cy="123.5" r="1.9" fill="#fff" stroke="#111" stroke-width="1"/>
<circle cx="284.5" cy="121" r="1.9" fill="#fff" stroke="#111" stroke-width="1"/>
<circle cx="286.5" cy="122.5" r="1.9" fill="#fff" stroke="#111" stroke-width="1"/>
<circle cx="288.5" cy="123.5" r="1.9" fill="#fff" stroke="#111" stroke-width="1"/>
<circle cx="285" cy="125.5" r="1.9" fill="#fff" stroke="#111" stroke-width="1"/>
<circle cx="282" cy="126.3" r="1.9" fill="#fff" stroke="#111" stroke-width="1"/>
<circle cx="287" cy="126" r="1.9" fill="#fff" stroke="#111" stroke-width="1"/>
<circle cx="283.5" cy="124" r="1.9" fill="#fff" stroke="#111" stroke-width="1"/>
<circle cx="301.3" cy="111" r="2.2" fill="#111"/>
<circle cx="301.3" cy="115.5" r="2.2" fill="#111"/>
<circle cx="297" cy="124.5" r="2.2" fill="#111"/>
<circle cx="299" cy="122" r="2.2" fill="#111"/>
<circle cx="302" cy="121" r="2.2" fill="#111"/>
<circle cx="305" cy="123.5" r="2.2" fill="#111"/>
<circle cx="300" cy="125" r="2.2" fill="#111"/>
<circle cx="303" cy="125.5" r="2.2" fill="#111"/>
<circle cx="306" cy="125" r="2.2" fill="#111"/>
<circle cx="304" cy="122.5" r="2.2" fill="#111"/>
<circle cx="298" cy="126" r="2.2" fill="#111"/>
<polygon points="312.8,60.72 317.2,60.72 315,64.68" fill="#111"/>
<polygon points="315.8,60.72 320.2,60.72 318,64.68" fill="#111"/>
<polygon points="318.8,60.72 323.2,60.72 321,64.68" fill="#111"/>
<polygon points="321.8,60.72 326.2,60.72 324,64.68" fill="#111"/>
<polygon points="317.7,63.92 322.1,63.92 319.9,67.88" fill="#111"/>
<polygon points="315.8,68.72 320.2,68.72 318,72.68" fill="#111"/>
<polygon points="318.8,70.52 323.2,70.52 321,74.48" fill="#111"/>
<polygon points="315.8,70.72 320.2,70.72 318,74.68" fill="#111"/>
<polygon points="317.3,73.02 321.7,73.02 319.5,76.98" fill="#111"/>
<polygon points="318.8,74.62 323.2,74.62 321,78.58" fill="#111"/>
<polygon points="318.3,77.02 322.7,77.02 320.5,80.98" fill="#111"/>
<polygon points="315.8,80.22 320.2,80.22 318,84.18" fill="#111"/>
<text x="0" y="0" font-size="8.6" transform="translate(241 126.4) rotate(-90)" fill="#111">Glucose&#160;&#160;AUC<tspan font-size="6.3" dy="2.4">(0-120)</tspan></text>
<text x="222.3" y="224.8" font-size="16.2" text-anchor="start" fill="#111">F</text>
<text x="304.2" y="200.7" font-size="8.8" text-anchor="middle" font-weight="bold" fill="#111">PP28</text>
<line x1="271.3" y1="336" x2="271.3" y2="245.2" stroke="#1a1a1a" stroke-width="1.2"/>
<line x1="267.7" y1="335.4" x2="271.3" y2="335.4" stroke="#1a1a1a" stroke-width="1.2"/>
<text x="266.7" y="338.83" font-size="8.7" text-anchor="end" fill="#111">0</text>
<line x1="267.7" y1="312.85" x2="271.3" y2="312.85" stroke="#1a1a1a" stroke-width="1.2"/>
<text x="266.7" y="316.28" font-size="8.7" text-anchor="end" fill="#111">500</text>
<line x1="267.7" y1="290.3" x2="271.3" y2="290.3" stroke="#1a1a1a" stroke-width="1.2"/>
<text x="266.7" y="293.73" font-size="8.7" text-anchor="end" fill="#111">1000</text>
<line x1="267.7" y1="267.75" x2="271.3" y2="267.75" stroke="#1a1a1a" stroke-width="1.2"/>
<text x="266.7" y="271.18" font-size="8.7" text-anchor="end" fill="#111">1500</text>
<line x1="267.7" y1="245.2" x2="271.3" y2="245.2" stroke="#1a1a1a" stroke-width="1.2"/>
<text x="266.7" y="248.63" font-size="8.7" text-anchor="end" fill="#111">2000</text>
<line x1="267.7" y1="335.4" x2="331.3" y2="335.4" stroke="#1a1a1a" stroke-width="1.2"/>
<line x1="283.2" y1="335.4" x2="283.2" y2="338.8" stroke="#1a1a1a" stroke-width="1.2"/>
<text x="283.2" y="347.8" font-size="8.4" text-anchor="middle" fill="#111">LF</text>
<line x1="301.6" y1="335.4" x2="301.6" y2="338.8" stroke="#1a1a1a" stroke-width="1.2"/>
<text x="301.6" y="347.8" font-size="8.4" text-anchor="middle" fill="#111">HF</text>
<line x1="319.6" y1="335.4" x2="319.6" y2="338.8" stroke="#1a1a1a" stroke-width="1.2"/>
<text x="319.6" y="347.8" font-size="8.4" text-anchor="middle" fill="#111">GDM</text>
<polygon points="293.08,220.75 293.71,222.1 295.2,221.97 294.35,223.2 295.2,224.42 293.71,224.3 293.08,225.65 292.44,224.3 290.95,224.42 291.8,223.2 290.95,221.97 292.44,222.1" fill="#111"/>
<polygon points="298.43,220.75 299.06,222.1 300.55,221.97 299.7,223.2 300.55,224.42 299.06,224.3 298.43,225.65 297.79,224.3 296.3,224.42 297.15,223.2 296.3,221.97 297.79,222.1" fill="#111"/>
<polygon points="303.78,220.75 304.41,222.1 305.9,221.97 305.05,223.2 305.9,224.42 304.41,224.3 303.78,225.65 303.14,224.3 301.65,224.42 302.5,223.2 301.65,221.97 303.14,222.1" fill="#111"/>
<polygon points="309.13,220.75 309.76,222.1 311.25,221.97 310.4,223.2 311.25,224.42 309.76,224.3 309.13,225.65 308.49,224.3 307,224.42 307.85,223.2 307,221.97 308.49,222.1" fill="#111"/>
<line x1="283.1" y1="228.9" x2="319.6" y2="228.9" stroke="#111" stroke-width="1.2"/>
<polygon points="302.38,239.55 303.01,240.9 304.5,240.78 303.65,242 304.5,243.22 303.01,243.1 302.38,244.45 301.74,243.1 300.25,243.22 301.1,242 300.25,240.78 301.74,240.9" fill="#111"/>
<polygon points="307.73,239.55 308.36,240.9 309.85,240.78 309,242 309.85,243.22 308.36,243.1 307.73,244.45 307.09,243.1 305.6,243.22 306.45,242 305.6,240.78 307.09,240.9" fill="#111"/>
<polygon points="313.07,239.55 313.71,240.9 315.2,240.78 314.35,242 315.2,243.22 313.71,243.1 313.07,244.45 312.44,243.1 310.95,243.22 311.8,242 310.95,240.78 312.44,240.9" fill="#111"/>
<polygon points="318.43,239.55 319.06,240.9 320.55,240.78 319.7,242 320.55,243.22 319.06,243.1 318.43,244.45 317.79,243.1 316.3,243.22 317.15,242 316.3,240.78 317.79,240.9" fill="#111"/>
<line x1="301.1" y1="247.6" x2="319.6" y2="247.6" stroke="#111" stroke-width="1.2"/>
<line x1="283.8" y1="316.5" x2="283.8" y2="328.5" stroke="#666" stroke-width="1"/>
<line x1="281.4" y1="316.5" x2="286.2" y2="316.5" stroke="#444" stroke-width="1.1"/>
<line x1="281.4" y1="328.5" x2="286.2" y2="328.5" stroke="#444" stroke-width="1.1"/>
<line x1="277.8" y1="322.5" x2="289.8" y2="322.5" stroke="#333" stroke-width="1.3"/>
<line x1="301.5" y1="309.8" x2="301.5" y2="322.4" stroke="#666" stroke-width="1"/>
<line x1="299.1" y1="309.8" x2="303.9" y2="309.8" stroke="#444" stroke-width="1.1"/>
<line x1="299.1" y1="322.4" x2="303.9" y2="322.4" stroke="#444" stroke-width="1.1"/>
<line x1="295.5" y1="316" x2="307.5" y2="316" stroke="#333" stroke-width="1.3"/>
<line x1="319.5" y1="267.8" x2="319.5" y2="297.2" stroke="#666" stroke-width="1"/>
<line x1="317.1" y1="267.8" x2="321.9" y2="267.8" stroke="#444" stroke-width="1.1"/>
<line x1="317.1" y1="297.2" x2="321.9" y2="297.2" stroke="#444" stroke-width="1.1"/>
<line x1="313.3" y1="281.7" x2="325.7" y2="281.7" stroke="#333" stroke-width="1.3"/>
<circle cx="281.7" cy="314" r="1.9" fill="#fff" stroke="#111" stroke-width="1"/>
<circle cx="287.5" cy="316.9" r="1.9" fill="#fff" stroke="#111" stroke-width="1"/>
<circle cx="281.2" cy="318.9" r="1.9" fill="#fff" stroke="#111" stroke-width="1"/>
<circle cx="284.8" cy="319.2" r="1.9" fill="#fff" stroke="#111" stroke-width="1"/>
<circle cx="279" cy="324.1" r="1.9" fill="#fff" stroke="#111" stroke-width="1"/>
<circle cx="284.8" cy="324.3" r="1.9" fill="#fff" stroke="#111" stroke-width="1"/>
<circle cx="282.6" cy="326.1" r="1.9" fill="#fff" stroke="#111" stroke-width="1"/>
<circle cx="287.5" cy="327" r="1.9" fill="#fff" stroke="#111" stroke-width="1"/>
<circle cx="279" cy="328.8" r="1.9" fill="#fff" stroke="#111" stroke-width="1"/>
<circle cx="284.4" cy="327" r="1.9" fill="#fff" stroke="#111" stroke-width="1"/>
<circle cx="301.7" cy="305.7" r="2.2" fill="#111"/>
<circle cx="304.8" cy="309.4" r="2.2" fill="#111"/>
<circle cx="297.4" cy="312.2" r="2.2" fill="#111"/>
<circle cx="303" cy="313.1" r="2.2" fill="#111"/>
<circle cx="298.3" cy="316.9" r="2.2" fill="#111"/>
<circle cx="304.3" cy="315.9" r="2.2" fill="#111"/>
<circle cx="297.4" cy="319.6" r="2.2" fill="#111"/>
<circle cx="304.8" cy="319.3" r="2.2" fill="#111"/>
<circle cx="302" cy="321.5" r="2.2" fill="#111"/>
<circle cx="297.4" cy="325.2" r="2.2" fill="#111"/>
<circle cx="304.8" cy="323" r="2.2" fill="#111"/>
<polygon points="317.1,256.12 321.5,256.12 319.3,260.08" fill="#111"/>
<polygon points="312.8,268.02 317.2,268.02 315,271.98" fill="#111"/>
<polygon points="320.8,268.02 325.2,268.02 323,271.98" fill="#111"/>
<polygon points="312.8,272.82 317.2,272.82 315,276.78" fill="#111"/>
<polygon points="316.8,272.82 321.2,272.82 319,276.78" fill="#111"/>
<polygon points="320.8,272.82 325.2,272.82 323,276.78" fill="#111"/>
<polygon points="316.8,275.02 321.2,275.02 319,278.98" fill="#111"/>
<polygon points="313.8,281.02 318.2,281.02 316,284.98" fill="#111"/>
<polygon points="317.8,282.82 322.2,282.82 320,286.78" fill="#111"/>
<polygon points="316.8,295.42 321.2,295.42 319,299.38" fill="#111"/>
<polygon points="316.8,301.92 321.2,301.92 319,305.88" fill="#111"/>
<polygon points="316.8,306.52 321.2,306.52 319,310.48" fill="#111"/>
<text x="0" y="0" font-size="8.6" transform="translate(241.1 325) rotate(-90)" fill="#111">Glucose AUC<tspan font-size="6.3" dy="2.4">(0-120)</tspan></text>
<text x="573" y="26" font-size="16.2" text-anchor="start" fill="#111">D</text>
<text x="655.1" y="13.9" font-size="8.8" text-anchor="middle" font-weight="bold" fill="#111">GD15</text>
<line x1="621.7" y1="135.5" x2="621.7" y2="44.4" stroke="#1a1a1a" stroke-width="1.2"/>
<line x1="618.1" y1="134.9" x2="621.7" y2="134.9" stroke="#1a1a1a" stroke-width="1.2"/>
<text x="617.1" y="138.33" font-size="8.7" text-anchor="end" fill="#111">0</text>
<line x1="618.1" y1="116.8" x2="621.7" y2="116.8" stroke="#1a1a1a" stroke-width="1.2"/>
<text x="617.1" y="120.23" font-size="8.7" text-anchor="end" fill="#111">500</text>
<line x1="618.1" y1="98.7" x2="621.7" y2="98.7" stroke="#1a1a1a" stroke-width="1.2"/>
<text x="617.1" y="102.13" font-size="8.7" text-anchor="end" fill="#111">1000</text>
<line x1="618.1" y1="80.6" x2="621.7" y2="80.6" stroke="#1a1a1a" stroke-width="1.2"/>
<text x="617.1" y="84.03" font-size="8.7" text-anchor="end" fill="#111">1500</text>
<line x1="618.1" y1="62.5" x2="621.7" y2="62.5" stroke="#1a1a1a" stroke-width="1.2"/>
<text x="617.1" y="65.93" font-size="8.7" text-anchor="end" fill="#111">2000</text>
<line x1="618.1" y1="44.4" x2="621.7" y2="44.4" stroke="#1a1a1a" stroke-width="1.2"/>
<text x="617.1" y="47.83" font-size="8.7" text-anchor="end" fill="#111">2500</text>
<line x1="618.1" y1="134.9" x2="682.6" y2="134.9" stroke="#1a1a1a" stroke-width="1.2"/>
<line x1="633.8" y1="134.9" x2="633.8" y2="138.3" stroke="#1a1a1a" stroke-width="1.2"/>
<text x="633.8" y="147" font-size="8.4" text-anchor="middle" fill="#111">LF</text>
<line x1="652" y1="134.9" x2="652" y2="138.3" stroke="#1a1a1a" stroke-width="1.2"/>
<text x="652" y="147" font-size="8.4" text-anchor="middle" fill="#111">HF</text>
<line x1="670.2" y1="134.9" x2="670.2" y2="138.3" stroke="#1a1a1a" stroke-width="1.2"/>
<text x="670.2" y="147" font-size="8.4" text-anchor="middle" fill="#111">GDM</text>
<polygon points="649.33,27.45 649.96,28.8 651.45,28.67 650.6,29.9 651.45,31.12 649.96,31 649.33,32.35 648.69,31 647.2,31.12 648.05,29.9 647.2,28.67 648.69,28.8" fill="#111"/>
<polygon points="654.68,27.45 655.31,28.8 656.8,28.67 655.95,29.9 656.8,31.12 655.31,31 654.68,32.35 654.04,31 652.55,31.12 653.4,29.9 652.55,28.67 654.04,28.8" fill="#111"/>
<line x1="634.1" y1="35.7" x2="670" y2="35.7" stroke="#111" stroke-width="1.2"/>
<polygon points="655.95,46.55 656.59,47.9 658.07,47.77 657.22,49 658.07,50.23 656.59,50.1 655.95,51.45 655.31,50.1 653.83,50.23 654.68,49 653.83,47.77 655.31,47.9" fill="#111"/>
<polygon points="661.3,46.55 661.94,47.9 663.42,47.77 662.57,49 663.42,50.23 661.94,50.1 661.3,51.45 660.66,50.1 659.18,50.23 660.03,49 659.18,47.77 660.66,47.9" fill="#111"/>
<polygon points="666.65,46.55 667.29,47.9 668.77,47.77 667.92,49 668.77,50.23 667.29,50.1 666.65,51.45 666.01,50.1 664.53,50.23 665.38,49 664.53,47.77 666.01,47.9" fill="#111"/>
<line x1="652" y1="55" x2="670" y2="55" stroke="#111" stroke-width="1.2"/>
<line x1="634" y1="76.6" x2="634" y2="106.7" stroke="#666" stroke-width="1"/>
<line x1="631.6" y1="76.6" x2="636.4" y2="76.6" stroke="#444" stroke-width="1.1"/>
<line x1="631.6" y1="106.7" x2="636.4" y2="106.7" stroke="#444" stroke-width="1.1"/>
<line x1="628.2" y1="89.5" x2="639.8" y2="89.5" stroke="#333" stroke-width="1.3"/>
<line x1="652" y1="74.4" x2="652" y2="98.5" stroke="#666" stroke-width="1"/>
<line x1="649.6" y1="74.4" x2="654.4" y2="74.4" stroke="#444" stroke-width="1.1"/>
<line x1="649.6" y1="98.5" x2="654.4" y2="98.5" stroke="#444" stroke-width="1.1"/>
<line x1="646" y1="86.9" x2="658" y2="86.9" stroke="#333" stroke-width="1.3"/>
<line x1="670.2" y1="101" x2="670.2" y2="121" stroke="#666" stroke-width="1"/>
<line x1="667.8" y1="101" x2="672.6" y2="101" stroke="#444" stroke-width="1.1"/>
<line x1="667.8" y1="121" x2="672.6" y2="121" stroke="#444" stroke-width="1.1"/>
<line x1="664.3" y1="110.9" x2="676.1" y2="110.9" stroke="#333" stroke-width="1.3"/>
<circle cx="634" cy="69.7" r="1.9" fill="#fff" stroke="#111" stroke-width="1"/>
<circle cx="634" cy="76.6" r="1.9" fill="#fff" stroke="#111" stroke-width="1"/>
<circle cx="628.5" cy="90.5" r="1.9" fill="#fff" stroke="#111" stroke-width="1"/>
<circle cx="632" cy="89" r="1.9" fill="#fff" stroke="#111" stroke-width="1"/>
<circle cx="635" cy="88.5" r="1.9" fill="#fff" stroke="#111" stroke-width="1"/>
<circle cx="638.5" cy="88.5" r="1.9" fill="#fff" stroke="#111" stroke-width="1"/>
<circle cx="637" cy="91.5" r="1.9" fill="#fff" stroke="#111" stroke-width="1"/>
<circle cx="634" cy="97.7" r="1.9" fill="#fff" stroke="#111" stroke-width="1"/>
<circle cx="634" cy="123" r="1.9" fill="#fff" stroke="#111" stroke-width="1"/>
<circle cx="652" cy="65.4" r="2.2" fill="#111"/>
<circle cx="652" cy="74.4" r="2.2" fill="#111"/>
<circle cx="648" cy="80" r="2.2" fill="#111"/>
<circle cx="651" cy="80" r="2.2" fill="#111"/>
<circle cx="654" cy="82.6" r="2.2" fill="#111"/>
<circle cx="657" cy="82.6" r="2.2" fill="#111"/>
<circle cx="650" cy="90.9" r="2.2" fill="#111"/>
<circle cx="649" cy="93.8" r="2.2" fill="#111"/>
<circle cx="651" cy="98" r="2.2" fill="#111"/>
<circle cx="654" cy="98" r="2.2" fill="#111"/>
<circle cx="652" cy="111.8" r="2.2" fill="#111"/>
<polygon points="665.8,95.42 670.2,95.42 668,99.38" fill="#111"/>
<polygon points="670.1,94.32 674.5,94.32 672.3,98.28" fill="#111"/>
<polygon points="668,99.12 672.4,99.12 670.2,103.08" fill="#111"/>
<polygon points="663.7,101.22 668.1,101.22 665.9,105.18" fill="#111"/>
<polygon points="672.2,102.82 676.6,102.82 674.4,106.78" fill="#111"/>
<polygon points="663.7,104.92 668.1,104.92 665.9,108.88" fill="#111"/>
<polygon points="668,103.92 672.4,103.92 670.2,107.88" fill="#111"/>
<polygon points="670.1,115.02 674.5,115.02 672.3,118.98" fill="#111"/>
<polygon points="665.8,116.52 670.2,116.52 668,120.48" fill="#111"/>
<polygon points="668,120.82 672.4,120.82 670.2,124.78" fill="#111"/>
<polygon points="672.2,121.82 676.6,121.82 674.4,125.78" fill="#111"/>
<polygon points="663.7,124.52 668.1,124.52 665.9,128.48" fill="#111"/>
<text x="0" y="0" font-size="8.6" transform="translate(591.9 121.8) rotate(-90)" fill="#111">Insulin AUC<tspan font-size="6.3" dy="2.4">(0-120)</tspan></text>
<text x="573.2" y="225.3" font-size="16.2" text-anchor="start" fill="#111">H</text>
<text x="653.6" y="205.9" font-size="8.8" text-anchor="middle" font-weight="bold" fill="#111">PP28</text>
<line x1="621.8" y1="336" x2="621.8" y2="245.2" stroke="#1a1a1a" stroke-width="1.2"/>
<line x1="618.2" y1="335.4" x2="621.8" y2="335.4" stroke="#1a1a1a" stroke-width="1.2"/>
<text x="617.2" y="338.83" font-size="8.7" text-anchor="end" fill="#111">0</text>
<line x1="618.2" y1="312.85" x2="621.8" y2="312.85" stroke="#1a1a1a" stroke-width="1.2"/>
<text x="617.2" y="316.28" font-size="8.7" text-anchor="end" fill="#111">2000</text>
<line x1="618.2" y1="290.3" x2="621.8" y2="290.3" stroke="#1a1a1a" stroke-width="1.2"/>
<text x="617.2" y="293.73" font-size="8.7" text-anchor="end" fill="#111">4000</text>
<line x1="618.2" y1="267.75" x2="621.8" y2="267.75" stroke="#1a1a1a" stroke-width="1.2"/>
<text x="617.2" y="271.18" font-size="8.7" text-anchor="end" fill="#111">6000</text>
<line x1="618.2" y1="245.2" x2="621.8" y2="245.2" stroke="#1a1a1a" stroke-width="1.2"/>
<text x="617.2" y="248.63" font-size="8.7" text-anchor="end" fill="#111">8000</text>
<line x1="618.2" y1="335.4" x2="682.6" y2="335.4" stroke="#1a1a1a" stroke-width="1.2"/>
<line x1="633.8" y1="335.4" x2="633.8" y2="338.8" stroke="#1a1a1a" stroke-width="1.2"/>
<text x="633.8" y="348" font-size="8.4" text-anchor="middle" fill="#111">LF</text>
<line x1="651.8" y1="335.4" x2="651.8" y2="338.8" stroke="#1a1a1a" stroke-width="1.2"/>
<text x="651.8" y="348" font-size="8.4" text-anchor="middle" fill="#111">HF</text>
<line x1="670.5" y1="335.4" x2="670.5" y2="338.8" stroke="#1a1a1a" stroke-width="1.2"/>
<text x="670.5" y="348" font-size="8.4" text-anchor="middle" fill="#111">GDM</text>
<polygon points="653.27,249.15 653.91,250.5 655.4,250.38 654.55,251.6 655.4,252.82 653.91,252.7 653.27,254.05 652.64,252.7 651.15,252.82 652,251.6 651.15,250.38 652.64,250.5" fill="#111"/>
<polygon points="658.62,249.15 659.26,250.5 660.75,250.38 659.9,251.6 660.75,252.82 659.26,252.7 658.62,254.05 657.99,252.7 656.5,252.82 657.35,251.6 656.5,250.38 657.99,250.5" fill="#111"/>
<polygon points="663.98,249.15 664.61,250.5 666.1,250.38 665.25,251.6 666.1,252.82 664.61,252.7 663.98,254.05 663.34,252.7 661.85,252.82 662.7,251.6 661.85,250.38 663.34,250.5" fill="#111"/>
<polygon points="669.32,249.15 669.96,250.5 671.45,250.38 670.6,251.6 671.45,252.82 669.96,252.7 669.32,254.05 668.69,252.7 667.2,252.82 668.05,251.6 667.2,250.38 668.69,250.5" fill="#111"/>
<line x1="652" y1="257.6" x2="670.2" y2="257.6" stroke="#111" stroke-width="1.2"/>
<line x1="633.8" y1="307.7" x2="633.8" y2="332" stroke="#666" stroke-width="1"/>
<line x1="631.4" y1="307.7" x2="636.2" y2="307.7" stroke="#444" stroke-width="1.1"/>
<line x1="631.4" y1="332" x2="636.2" y2="332" stroke="#444" stroke-width="1.1"/>
<line x1="628.2" y1="319.9" x2="639.4" y2="319.9" stroke="#333" stroke-width="1.3"/>
<line x1="651.8" y1="285.4" x2="651.8" y2="323.3" stroke="#666" stroke-width="1"/>
<line x1="649.4" y1="285.4" x2="654.2" y2="285.4" stroke="#444" stroke-width="1.1"/>
<line x1="649.4" y1="323.3" x2="654.2" y2="323.3" stroke="#444" stroke-width="1.1"/>
<line x1="645.9" y1="304.9" x2="657.7" y2="304.9" stroke="#333" stroke-width="1.3"/>
<line x1="670.5" y1="326" x2="670.5" y2="334.5" stroke="#666" stroke-width="1"/>
<line x1="668.1" y1="326" x2="672.9" y2="326" stroke="#444" stroke-width="1.1"/>
<line x1="668.1" y1="334.5" x2="672.9" y2="334.5" stroke="#444" stroke-width="1.1"/>
<line x1="665" y1="331.3" x2="676" y2="331.3" stroke="#333" stroke-width="1.3"/>
<circle cx="632.3" cy="303.6" r="1.9" fill="#fff" stroke="#111" stroke-width="1"/>
<circle cx="635.7" cy="303.6" r="1.9" fill="#fff" stroke="#111" stroke-width="1"/>
<circle cx="633.8" cy="307.7" r="1.9" fill="#fff" stroke="#111" stroke-width="1"/>
<circle cx="633.8" cy="321.3" r="1.9" fill="#fff" stroke="#111" stroke-width="1"/>
<circle cx="629.6" cy="325.4" r="1.9" fill="#fff" stroke="#111" stroke-width="1"/>
<circle cx="633.8" cy="325.4" r="1.9" fill="#fff" stroke="#111" stroke-width="1"/>
<circle cx="638.2" cy="325.4" r="1.9" fill="#fff" stroke="#111" stroke-width="1"/>
<circle cx="632.3" cy="328.8" r="1.9" fill="#fff" stroke="#111" stroke-width="1"/>
<circle cx="635.1" cy="328.8" r="1.9" fill="#fff" stroke="#111" stroke-width="1"/>
<circle cx="633.8" cy="330.7" r="1.9" fill="#fff" stroke="#111" stroke-width="1"/>
<circle cx="652" cy="268.1" r="2.2" fill="#111"/>
<circle cx="652" cy="276.1" r="2.2" fill="#111"/>
<circle cx="653.5" cy="292.8" r="2.2" fill="#111"/>
<circle cx="650.2" cy="294.2" r="2.2" fill="#111"/>
<circle cx="653.4" cy="301.3" r="2.2" fill="#111"/>
<circle cx="650.7" cy="302.9" r="2.2" fill="#111"/>
<circle cx="650.1" cy="316.2" r="2.2" fill="#111"/>
<circle cx="653.4" cy="316.2" r="2.2" fill="#111"/>
<circle cx="647.3" cy="323.6" r="2.2" fill="#111"/>
<circle cx="650.7" cy="321.8" r="2.2" fill="#111"/>
<circle cx="653.1" cy="323.2" r="2.2" fill="#111"/>
<circle cx="656.2" cy="322.7" r="2.2" fill="#111"/>
<polygon points="667.4,320.72 671.8,320.72 669.6,324.68" fill="#111"/>
<polygon points="669,323.82 673.4,323.82 671.2,327.78" fill="#111"/>
<polygon points="663.3,328.02 667.7,328.02 665.5,331.98" fill="#111"/>
<polygon points="666.3,329.52 670.7,329.52 668.5,333.48" fill="#111"/>
<polygon points="669.3,328.52 673.7,328.52 671.5,332.48" fill="#111"/>
<polygon points="672.3,329.02 676.7,329.02 674.5,332.98" fill="#111"/>
<polygon points="664.8,331.02 669.2,331.02 667,334.98" fill="#111"/>
<polygon points="670.8,331.22 675.2,331.22 673,335.18" fill="#111"/>
<polygon points="668.3,330.02 672.7,330.02 670.5,333.98" fill="#111"/>
<text x="0" y="0" font-size="8.6" transform="translate(591.7 322.9) rotate(-90)" fill="#111">Insulin AUC<tspan font-size="6.3" dy="2.4">(0-120)</tspan></text>
</svg>
</body></html>
